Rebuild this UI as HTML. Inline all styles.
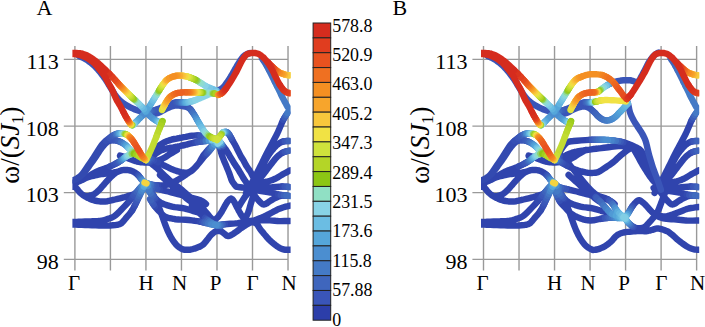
<!DOCTYPE html>
<html><head><meta charset="utf-8"><style>
html,body{margin:0;padding:0;background:#fff;width:705px;height:327px;overflow:hidden}
svg{display:block}
text{fill:#000}
</style></head><body>
<svg width="705" height="327" viewBox="0 0 705 327">
<line x1="74.90" y1="46" x2="74.90" y2="270.5" stroke="#999" stroke-width="1.4"/>
<line x1="110.42" y1="46" x2="110.42" y2="270.5" stroke="#999" stroke-width="1.4"/>
<line x1="145.94" y1="46" x2="145.94" y2="270.5" stroke="#999" stroke-width="1.4"/>
<line x1="181.46" y1="46" x2="181.46" y2="270.5" stroke="#999" stroke-width="1.4"/>
<line x1="216.98" y1="46" x2="216.98" y2="270.5" stroke="#999" stroke-width="1.4"/>
<line x1="252.50" y1="46" x2="252.50" y2="270.5" stroke="#999" stroke-width="1.4"/>
<line x1="288.02" y1="46" x2="288.02" y2="270.5" stroke="#999" stroke-width="1.4"/>
<line x1="63.8" y1="59.3" x2="288" y2="59.3" stroke="#999" stroke-width="1.3"/>
<line x1="63.8" y1="126.1" x2="288" y2="126.1" stroke="#999" stroke-width="1.3"/>
<line x1="63.8" y1="192.6" x2="288" y2="192.6" stroke="#999" stroke-width="1.3"/>
<line x1="63.8" y1="259.4" x2="288" y2="259.4" stroke="#999" stroke-width="1.3"/>
<text x="58.8" y="69.0" text-anchor="end" font-size="22" font-family='"Liberation Serif", serif'>113</text>
<text x="58.8" y="135.8" text-anchor="end" font-size="22" font-family='"Liberation Serif", serif'>108</text>
<text x="58.8" y="202.3" text-anchor="end" font-size="22" font-family='"Liberation Serif", serif'>103</text>
<text x="58.8" y="269.1" text-anchor="end" font-size="22" font-family='"Liberation Serif", serif'>98</text>
<text x="74.0" y="290.2" text-anchor="middle" font-size="21" font-family='"Liberation Serif", serif'>Γ</text>
<text x="146.0" y="290.2" text-anchor="middle" font-size="21" font-family='"Liberation Serif", serif'>H</text>
<text x="179.6" y="290.2" text-anchor="middle" font-size="21" font-family='"Liberation Serif", serif'>N</text>
<text x="215.6" y="290.2" text-anchor="middle" font-size="21" font-family='"Liberation Serif", serif'>P</text>
<text x="252.6" y="290.2" text-anchor="middle" font-size="21" font-family='"Liberation Serif", serif'>Γ</text>
<text x="289.1" y="290.2" text-anchor="middle" font-size="21" font-family='"Liberation Serif", serif'>N</text>
<line x1="483.50" y1="46" x2="483.50" y2="270.5" stroke="#999" stroke-width="1.4"/>
<line x1="519.02" y1="46" x2="519.02" y2="270.5" stroke="#999" stroke-width="1.4"/>
<line x1="554.54" y1="46" x2="554.54" y2="270.5" stroke="#999" stroke-width="1.4"/>
<line x1="590.06" y1="46" x2="590.06" y2="270.5" stroke="#999" stroke-width="1.4"/>
<line x1="625.58" y1="46" x2="625.58" y2="270.5" stroke="#999" stroke-width="1.4"/>
<line x1="661.10" y1="46" x2="661.10" y2="270.5" stroke="#999" stroke-width="1.4"/>
<line x1="696.62" y1="46" x2="696.62" y2="270.5" stroke="#999" stroke-width="1.4"/>
<line x1="472.40000000000003" y1="59.3" x2="696.6" y2="59.3" stroke="#999" stroke-width="1.3"/>
<line x1="472.40000000000003" y1="126.1" x2="696.6" y2="126.1" stroke="#999" stroke-width="1.3"/>
<line x1="472.40000000000003" y1="192.6" x2="696.6" y2="192.6" stroke="#999" stroke-width="1.3"/>
<line x1="472.40000000000003" y1="259.4" x2="696.6" y2="259.4" stroke="#999" stroke-width="1.3"/>
<text x="467.40000000000003" y="69.0" text-anchor="end" font-size="22" font-family='"Liberation Serif", serif'>113</text>
<text x="467.40000000000003" y="135.8" text-anchor="end" font-size="22" font-family='"Liberation Serif", serif'>108</text>
<text x="467.40000000000003" y="202.3" text-anchor="end" font-size="22" font-family='"Liberation Serif", serif'>103</text>
<text x="467.40000000000003" y="269.1" text-anchor="end" font-size="22" font-family='"Liberation Serif", serif'>98</text>
<text x="482.6" y="290.2" text-anchor="middle" font-size="21" font-family='"Liberation Serif", serif'>Γ</text>
<text x="554.6" y="290.2" text-anchor="middle" font-size="21" font-family='"Liberation Serif", serif'>H</text>
<text x="588.2" y="290.2" text-anchor="middle" font-size="21" font-family='"Liberation Serif", serif'>N</text>
<text x="624.2" y="290.2" text-anchor="middle" font-size="21" font-family='"Liberation Serif", serif'>P</text>
<text x="661.2" y="290.2" text-anchor="middle" font-size="21" font-family='"Liberation Serif", serif'>Γ</text>
<text x="697.7" y="290.2" text-anchor="middle" font-size="21" font-family='"Liberation Serif", serif'>N</text>
<clipPath id="c0"><rect x="72.4" y="0" width="218.2" height="327"/></clipPath><g clip-path="url(#c0)" fill="none" stroke-width="6.4" stroke-linecap="round"><path stroke="#3044ad" d="M69.0 182.5L69.9 182.5M69.9 182.5L71.1 182.6M71.1 182.6L72.5 182.6M72.5 182.6L74.0 182.5M74.0 182.5L75.6 182.2M75.6 182.2L77.4 181.8M77.4 181.8L79.2 181.2M79.2 181.2L81.0 180.5M81.0 180.5L82.8 179.6M82.8 179.6L84.6 178.6M84.6 178.6L86.3 177.5M86.3 177.5L88.0 176.5M88.0 176.5L89.6 175.6M89.6 175.6L91.1 174.7M91.1 174.7L92.6 173.8M92.6 173.8L94.0 173.0M94.0 173.0L95.3 172.3M95.3 172.3L96.5 171.7M96.5 171.7L97.7 171.2M97.7 171.2L99.0 170.6M99.0 170.6L100.5 170.1M100.5 170.1L102.0 169.5M102.0 169.5L103.5 169.0M103.5 169.0L105.0 168.5M105.0 168.5L106.2 168.0M106.2 168.0L107.4 167.6M107.4 167.6L108.6 167.1M108.6 167.1L110.0 166.5M70.0 187.0L70.9 186.9M70.9 186.9L72.2 186.7M72.2 186.7L73.6 186.6M73.6 186.6L75.0 187.0M75.0 187.0L76.2 188.0M76.2 188.0L77.5 189.5M77.5 189.5L78.7 191.1M78.7 191.1L80.0 192.5M80.0 192.5L81.2 193.6M81.2 193.6L82.4 194.6M82.4 194.6L83.7 195.5M83.7 195.5L85.3 196.5M85.3 196.5L87.3 197.6M87.3 197.6L89.6 198.7M89.6 198.7L92.0 199.7M92.0 199.7L94.5 200.5M94.5 200.5L97.0 201.0M97.0 201.0L99.7 201.4M99.7 201.4L102.4 201.5M102.4 201.5L105.0 201.5M105.0 201.5L107.5 201.2M107.5 201.2L110.0 200.7M110.0 200.7L112.5 200.1M112.5 200.1L115.0 199.5M115.0 199.5L117.5 198.9M117.5 198.9L120.0 198.3M120.0 198.3L122.5 197.7M122.5 197.7L125.0 197.0M125.0 197.0L127.7 196.2M127.7 196.2L130.6 195.4M130.6 195.4L133.3 194.5M133.3 194.5L135.6 193.5M86.0 196.5L87.4 196.2M87.4 196.2L89.3 195.8M89.3 195.8L91.5 195.3M91.5 195.3L93.4 194.6M93.4 194.6L95.0 193.6M95.0 193.6L96.4 192.5M96.4 192.5L97.8 191.2M97.8 191.2L99.0 190.0M99.0 190.0L100.1 188.9M100.1 188.9L101.1 187.8M101.1 187.8L102.0 186.7M102.0 186.7L103.0 185.6M103.0 185.6L104.0 184.5M104.0 184.5L105.0 183.3M105.0 183.3L106.0 182.1M106.0 182.1L107.0 181.0M107.0 181.0L108.1 179.8M108.1 179.8L109.2 178.7M109.2 178.7L110.3 177.6M110.3 177.6L111.4 176.5M111.4 176.5L112.4 175.5M112.4 175.5L113.4 174.6M113.4 174.6L114.4 173.8M114.4 173.8L115.5 173.0M115.5 173.0L116.8 172.3M116.8 172.3L118.1 171.6M118.1 171.6L119.6 171.0M119.6 171.0L121.0 170.5M121.0 170.5L122.5 170.2M122.5 170.2L124.0 170.0M124.0 170.0L125.5 169.9M125.5 169.9L127.0 170.0M127.0 170.0L128.5 170.2M128.5 170.2L130.1 170.5M130.1 170.5L131.6 170.9M131.6 170.9L133.0 171.5M133.0 171.5L134.3 172.2M134.3 172.2L135.6 173.0M135.6 173.0L136.8 174.0M136.8 174.0L138.0 175.0M68.0 222.0L68.7 222.0M68.7 222.0L69.8 222.0M69.8 222.0L71.1 222.0M71.1 222.0L73.0 222.0M73.0 222.0L75.5 221.9M75.5 221.9L78.4 221.8M78.4 221.8L81.7 221.6M81.7 221.6L85.0 221.5M85.0 221.5L88.5 221.4M88.5 221.4L92.3 221.3M92.3 221.3L95.9 221.2M95.9 221.2L99.0 221.0M99.0 221.0L101.2 220.7M101.2 220.7L102.9 220.4M102.9 220.4L104.4 220.0M104.4 220.0L106.0 219.5M106.0 219.5L107.9 218.9M107.9 218.9L109.9 218.3M109.9 218.3L112.0 217.5M112.0 217.5L113.9 216.5M113.9 216.5L115.7 215.2M115.7 215.2L117.4 213.6M117.4 213.6L119.2 211.9M119.2 211.9L121.0 210.0M121.0 210.0L123.0 207.9M123.0 207.9L125.2 205.6M125.2 205.6L127.3 203.3M127.3 203.3L129.2 201.2M68.0 224.5L68.7 224.5M68.7 224.5L69.8 224.5M69.8 224.5L71.1 224.5M71.1 224.5L73.0 224.5M73.0 224.5L75.5 224.6M75.5 224.6L78.4 224.7M78.4 224.7L81.7 224.9M81.7 224.9L85.0 225.0M85.0 225.0L88.4 225.1M88.4 225.1L92.1 225.3M92.1 225.3L95.7 225.4M95.7 225.4L99.0 225.5M99.0 225.5L102.0 225.6M102.0 225.6L104.8 225.6M104.8 225.6L107.4 225.6M107.4 225.6L110.0 225.5M110.0 225.5L112.7 225.3M112.7 225.3L115.3 225.1M115.3 225.1L117.8 224.7M117.8 224.7L120.0 224.0M120.0 224.0L121.8 222.9M121.8 222.9L123.2 221.4M123.2 221.4L124.6 219.7M124.6 219.7L126.0 218.0M126.0 218.0L127.6 216.2M127.6 216.2L129.2 214.4M129.2 214.4L130.7 212.4M130.7 212.4L132.2 210.3M120.0 155.6L121.6 156.1M121.6 156.1L124.0 156.9M124.0 156.9L126.6 157.8M126.6 157.8L129.0 158.6M129.0 158.6L131.1 159.4M131.1 159.4L133.1 160.2M133.1 160.2L135.1 160.9M135.1 160.9L137.0 161.5M137.0 161.5L138.9 161.9M138.9 161.9L140.7 162.2M140.7 162.2L142.5 162.4M142.5 162.4L144.5 162.5M144.5 162.5L146.7 162.5M146.7 162.5L148.9 162.4M148.9 162.4L151.3 162.1M151.3 162.1L153.6 161.7M153.6 161.7L155.9 161.1M155.9 161.1L158.3 160.4M158.3 160.4L160.6 159.5M160.6 159.5L162.8 158.6M162.8 158.6L164.7 157.5M164.7 157.5L166.5 156.4M166.5 156.4L168.3 155.1M168.3 155.1L170.0 154.0M170.0 154.0L171.9 152.9M171.9 152.9L173.9 151.7M173.9 151.7L175.7 150.7M175.7 150.7L177.0 150.0M150.0 154.0L151.2 152.5M151.2 152.5L152.4 151.1M152.4 151.1L153.7 149.7M153.7 149.7L155.0 148.5M155.0 148.5L156.2 147.5M156.2 147.5L157.5 146.6M157.5 146.6L158.8 145.8M158.8 145.8L160.0 145.0M160.0 145.0L161.2 144.2M161.2 144.2L162.4 143.4M162.4 143.4L163.6 142.7M163.6 142.7L165.0 142.0M165.0 142.0L166.5 141.3M166.5 141.3L168.2 140.7M168.2 140.7L170.0 140.1M170.0 140.1L172.0 139.5M172.0 139.5L174.3 139.0M174.3 139.0L176.8 138.6M176.8 138.6L179.3 138.1M179.3 138.1L181.7 137.7M181.7 137.7L183.9 137.2M183.9 137.2L186.0 136.8M186.0 136.8L188.0 136.3M188.0 136.3L190.0 136.0M190.0 136.0L192.0 135.7M192.0 135.7L193.9 135.6M193.9 135.6L195.9 135.5M195.9 135.5L198.0 135.5M150.0 158.0L151.0 157.3M151.0 157.3L152.0 156.6M152.0 156.6L153.0 155.8M153.0 155.8L154.2 155.0M154.2 155.0L155.5 154.0M155.5 154.0L156.9 153.0M156.9 153.0L158.4 151.9M158.4 151.9L160.0 151.0M160.0 151.0L161.6 150.2M161.6 150.2L163.3 149.6M163.3 149.6L165.1 149.0M165.1 149.0L167.0 148.5M167.0 148.5L169.0 148.1M169.0 148.1L171.2 147.7M171.2 147.7L173.4 147.4M173.4 147.4L175.6 147.0M175.6 147.0L177.8 146.5M177.8 146.5L180.1 146.1M180.1 146.1L182.4 145.5M182.4 145.5L184.8 145.0M184.8 145.0L187.3 144.4M187.3 144.4L189.8 143.7M189.8 143.7L192.4 143.1M192.4 143.1L195.0 142.5M158.0 162.5L160.0 163.5M160.0 163.5L162.1 164.5M162.1 164.5L164.1 165.5M164.1 165.5L166.0 166.4M166.0 166.4L167.6 167.2M167.6 167.2L169.1 167.9M169.1 167.9L170.5 168.6M170.5 168.6L172.0 169.2M172.0 169.2L173.7 169.9M173.7 169.9L175.4 170.5M175.4 170.5L177.2 171.1M177.2 171.1L179.0 171.6M179.0 171.6L180.8 172.1M180.8 172.1L182.6 172.5M182.6 172.5L184.3 172.8M184.3 172.8L186.0 172.8M186.0 172.8L187.6 172.6M187.6 172.6L189.0 172.2M189.0 172.2L190.5 171.5M190.5 171.5L192.0 170.5M192.0 170.5L193.6 169.1M193.6 169.1L195.2 167.4M195.2 167.4L196.9 165.5M196.9 165.5L198.6 163.5M198.6 163.5L200.3 161.4M200.3 161.4L202.1 159.2M202.1 159.2L203.8 157.1M203.8 157.1L205.4 155.1M208.0 150.0L206.5 151.7M206.5 151.7L205.3 153.1M205.3 153.1L204.1 154.5M204.1 154.5L203.0 156.0M203.0 156.0L201.9 157.8M201.9 157.8L200.8 159.8M200.8 159.8L199.8 161.7M199.8 161.7L198.6 163.5M198.6 163.5L197.3 165.1M197.3 165.1L196.0 166.7M196.0 166.7L194.5 168.1M194.5 168.1L193.0 169.5M193.0 169.5L191.3 170.8M191.3 170.8L189.5 172.1M189.5 172.1L187.7 173.3M187.7 173.3L186.0 174.5M186.0 174.5L184.4 175.6M184.4 175.6L183.0 176.6M183.0 176.6L181.5 177.6M181.5 177.6L180.0 178.5M180.0 178.5L178.5 179.4M178.5 179.4L177.0 180.3M177.0 180.3L175.5 181.2M175.5 181.2L173.8 182.0M173.8 182.0L172.0 182.8M172.0 182.8L170.0 183.7M170.0 183.7L168.0 184.4M168.0 184.4L166.0 185.0M166.0 185.0L164.0 185.3M164.0 185.3L161.9 185.5M161.9 185.5L159.9 185.5M159.9 185.5L158.0 185.5M160.0 189.5L162.6 190.2M162.6 190.2L165.3 190.8M165.3 190.8L168.2 191.5M168.2 191.5L171.2 192.3M171.2 192.3L174.4 193.2M174.4 193.2L177.9 194.1M177.9 194.1L181.4 195.0M181.4 195.0L185.0 196.0M185.0 196.0L188.8 197.0M188.8 197.0L192.8 198.0M192.8 198.0L196.6 199.0M196.6 199.0L199.7 200.0M199.7 200.0L202.0 201.1M202.0 201.1L203.8 202.2M203.8 202.2L205.1 203.3M205.1 203.3L206.0 204.0M155.0 198.0L156.2 200.7M156.2 200.7L157.5 203.6M157.5 203.6L158.8 206.8M158.8 206.8L160.0 210.0M160.0 210.0L161.2 213.4M161.2 213.4L162.5 217.0M162.5 217.0L163.8 220.6M163.8 220.6L165.0 224.0M165.0 224.0L166.2 227.1M166.2 227.1L167.4 230.1M167.4 230.1L168.7 232.9M168.7 232.9L170.0 235.5M170.0 235.5L171.4 238.0M171.4 238.0L172.9 240.4M172.9 240.4L174.5 242.6M174.5 242.6L176.0 244.5M176.0 244.5L177.5 246.0M177.5 246.0L179.1 247.3M179.1 247.3L180.6 248.2M180.6 248.2L182.0 249.0M182.0 249.0L183.3 249.5M183.3 249.5L184.5 249.7M184.5 249.7L185.7 249.8M185.7 249.8L187.0 249.8M187.0 249.8L188.4 249.8M188.4 249.8L189.8 249.7M189.8 249.7L191.3 249.4M191.3 249.4L193.0 249.0M193.0 249.0L195.1 248.4M195.1 248.4L197.4 247.5M197.4 247.5L199.8 246.6M199.8 246.6L201.8 245.5M201.8 245.5L203.4 244.3M203.4 244.3L204.7 242.8M204.7 242.8L205.9 241.4M205.9 241.4L207.0 240.0M207.0 240.0L208.1 238.7M208.1 238.7L209.0 237.4M209.0 237.4L210.0 236.1M210.0 236.1L211.1 234.9M211.1 234.9L212.4 233.7M212.4 233.7L213.7 232.6M213.7 232.6L215.1 231.6M215.1 231.6L216.5 231.0M216.5 231.0L217.8 230.8M217.8 230.8L219.1 230.9M219.1 230.9L220.4 231.3M220.4 231.3L221.8 231.8M221.8 231.8L223.3 232.8M223.3 232.8L224.8 234.1M224.8 234.1L226.4 235.4M226.4 235.4L227.9 236.0M227.9 236.0L229.4 235.9M229.4 235.9L230.9 235.2M230.9 235.2L232.5 234.3M232.5 234.3L234.0 233.3M234.0 233.3L235.6 232.3M235.6 232.3L237.2 231.1M237.2 231.1L238.8 229.9M238.8 229.9L240.2 228.8M240.2 228.8L241.4 227.9M241.4 227.9L242.6 227.2M242.6 227.2L243.6 226.4M243.6 226.4L244.8 225.7M244.8 225.7L246.2 224.8M246.2 224.8L247.7 223.9M247.7 223.9L249.1 223.1M249.1 223.1L250.0 222.5M150.0 162.5L151.2 163.4M151.2 163.4L152.4 164.4M152.4 164.4L153.7 165.4M153.7 165.4L155.0 166.5M155.0 166.5L156.2 167.5M156.2 167.5L157.3 168.5M157.3 168.5L158.5 169.6M158.5 169.6L160.0 171.0M160.0 171.0L161.9 172.9M161.9 172.9L164.2 175.2M164.2 175.2L166.5 177.4M166.5 177.4L168.6 179.4M168.6 179.4L170.3 180.9M170.3 180.9L171.9 182.2M171.9 182.2L173.4 183.3M173.4 183.3L175.0 184.5M175.0 184.5L176.6 185.7M176.6 185.7L178.2 187.0M178.2 187.0L179.8 188.2M179.8 188.2L181.6 189.7M181.6 189.7L183.5 191.4M183.5 191.4L185.6 193.2M185.6 193.2L187.8 195.1M187.8 195.1L190.0 197.0M190.0 197.0L192.4 199.1M192.4 199.1L195.0 201.3M195.0 201.3L197.6 203.4M197.6 203.4L199.7 205.3M199.7 205.3L201.3 206.9M201.3 206.9L202.6 208.3M202.6 208.3L203.8 209.6M203.8 209.6L205.0 211.0M205.0 211.0L206.3 212.5M206.3 212.5L207.6 214.1M207.6 214.1L208.8 215.6M208.8 215.6L210.0 217.0M210.0 217.0L211.2 218.2M211.2 218.2L212.3 219.4M212.3 219.4L213.3 220.3M213.3 220.3L214.0 221.0M160.0 175.0L161.8 176.6M161.8 176.6L164.4 178.9M164.4 178.9L167.3 181.5M167.3 181.5L170.0 184.0M170.0 184.0L172.5 186.3M172.5 186.3L175.0 188.6M175.0 188.6L177.5 190.8M177.5 190.8L180.0 193.0M180.0 193.0L182.7 195.3M182.7 195.3L185.6 197.6M185.6 197.6L188.2 199.6M188.2 199.6L190.0 201.0M156.0 199.0L157.2 200.1M157.2 200.1L158.5 201.2M158.5 201.2L160.0 202.2M160.0 202.2L161.8 203.2M161.8 203.2L164.0 204.2M164.0 204.2L166.6 205.1M166.6 205.1L169.3 205.9M169.3 205.9L171.9 206.6M171.9 206.6L174.5 207.1M174.5 207.1L177.1 207.4M177.1 207.4L179.6 207.7M179.6 207.7L182.0 208.0M182.0 208.0L184.1 208.4M184.1 208.4L186.0 208.9M186.0 208.9L187.9 209.4M187.9 209.4L190.0 210.0M190.0 210.0L192.6 210.8M192.6 210.8L195.5 211.6M195.5 211.6L198.2 212.4M198.2 212.4L200.0 213.0M155.0 206.6L156.2 208.1M156.2 208.1L157.5 209.5M157.5 209.5L158.7 210.8M158.7 210.8L160.0 212.0M160.0 212.0L161.2 213.3M161.2 213.3L162.3 214.5M162.3 214.5L163.6 215.7M163.6 215.7L165.2 216.7M165.2 216.7L167.3 217.5M167.3 217.5L169.7 218.2M169.7 218.2L172.4 218.7M172.4 218.7L175.3 219.2M175.3 219.2L178.5 219.5M178.5 219.5L181.9 219.6M181.9 219.6L185.4 219.8M185.4 219.8L188.7 220.0M188.7 220.0L191.8 220.4M191.8 220.4L194.7 220.8M194.7 220.8L197.5 221.2M197.5 221.2L200.0 221.7M219.5 147.0L220.1 148.9M220.1 148.9L220.7 151.1M220.7 151.1L221.3 153.4M221.3 153.4L222.0 155.6M222.0 155.6L222.7 157.4M222.7 157.4L223.4 159.1M223.4 159.1L224.1 160.9M224.1 160.9L225.0 163.0M225.0 163.0L226.1 165.6M226.1 165.6L227.3 168.5M227.3 168.5L228.5 171.4M228.5 171.4L229.5 174.0M229.5 174.0L230.2 176.1M230.2 176.1L230.8 177.8M230.8 177.8L231.3 179.4M231.3 179.4L232.0 181.0M232.0 181.0L233.0 182.6M233.0 182.6L234.2 184.2M234.2 184.2L235.2 185.5M235.2 185.5L236.0 186.5M223.0 146.0L223.9 147.1M223.9 147.1L224.8 148.2M224.8 148.2L225.7 149.3M225.7 149.3L226.5 150.5M226.5 150.5L227.2 151.7M227.2 151.7L227.9 152.9M227.9 152.9L228.7 154.1M228.7 154.1L229.5 155.6M229.5 155.6L230.5 157.3M230.5 157.3L231.7 159.2M231.7 159.2L232.9 161.2M232.9 161.2L234.0 163.0M234.0 163.0L235.1 164.6M235.1 164.6L236.1 166.2M236.1 166.2L237.1 167.6M237.1 167.6L238.0 169.0M238.0 169.0L238.8 170.2M238.8 170.2L239.4 171.4M239.4 171.4L240.1 172.6M240.1 172.6L241.0 174.0M241.0 174.0L242.1 175.9M242.1 175.9L243.4 178.1M243.4 178.1L244.8 180.2M244.8 180.2L246.0 182.0M246.0 182.0L247.2 183.4M247.2 183.4L248.3 184.5M248.3 184.5L249.3 185.4M249.3 185.4L250.0 186.0M232.0 139.5L232.9 141.1M232.9 141.1L233.9 142.8M233.9 142.8L234.9 144.5M234.9 144.5L235.9 146.4M235.9 146.4L237.0 148.7M237.0 148.7L238.3 151.2M238.3 151.2L239.5 153.6M239.5 153.6L240.5 155.6M240.5 155.6L241.3 157.0M241.3 157.0L241.9 158.0M241.9 158.0L242.5 158.9M242.5 158.9L243.2 160.0M243.2 160.0L244.0 161.4M244.0 161.4L244.8 162.9M244.8 162.9L245.6 164.5M245.6 164.5L246.5 166.0M246.5 166.0L247.5 167.5M247.5 167.5L248.5 169.0M248.5 169.0L249.6 170.5M249.6 170.5L250.6 172.1M250.6 172.1L251.5 173.8M251.5 173.8L252.4 175.6M252.4 175.6L253.3 177.4M253.3 177.4L254.0 179.0M254.0 179.0L254.6 180.5M254.6 180.5L255.2 181.9M255.2 181.9L255.7 183.1M255.7 183.1L256.0 184.0M236.0 186.5L237.0 186.7M237.0 186.7L238.5 187.0M238.5 187.0L240.2 187.3M240.2 187.3L242.0 187.5M242.0 187.5L244.0 187.6M244.0 187.6L246.4 187.6M246.4 187.6L248.5 187.5M248.5 187.5L250.0 187.5M192.0 205.0L193.5 206.0M193.5 206.0L195.6 207.3M195.6 207.3L198.0 208.9M198.0 208.9L200.0 210.5M200.0 210.5L201.6 212.1M201.6 212.1L203.1 213.8M203.1 213.8L204.5 215.5M204.5 215.5L206.0 217.0M206.0 217.0L207.5 218.5M207.5 218.5L209.1 220.1M209.1 220.1L210.6 221.3M210.6 221.3L212.0 222.0M212.0 222.0L213.1 221.9M213.1 221.9L214.1 221.1M214.1 221.1L215.0 220.1M215.0 220.1L216.0 219.0M216.0 219.0L217.0 218.0M217.0 218.0L218.1 216.9M218.1 216.9L219.1 215.5M219.1 215.5L220.3 213.9M220.3 213.9L221.7 211.7M221.7 211.7L223.2 209.0M223.2 209.0L224.6 206.4M224.6 206.4L225.8 204.3M225.8 204.3L226.7 202.9M226.7 202.9L227.3 201.9M227.3 201.9L227.9 201.2M227.9 201.2L228.5 200.5M228.5 200.5L229.2 199.8M229.2 199.8L229.9 199.2M229.9 199.2L230.6 198.9M230.6 198.9L231.3 198.8M231.3 198.8L232.0 199.1M232.0 199.1L232.7 199.7M232.7 199.7L233.3 200.5M233.3 200.5L234.0 201.5M234.0 201.5L234.7 202.7M234.7 202.7L235.4 204.1M235.4 204.1L236.1 205.6M236.1 205.6L236.8 207.0M236.8 207.0L237.5 208.3M237.5 208.3L238.2 209.6M238.2 209.6L238.8 210.8M238.8 210.8L239.5 212.0M239.5 212.0L240.2 213.2M240.2 213.2L240.9 214.5M240.9 214.5L241.6 215.6M241.6 215.6L242.3 216.5M242.3 216.5L243.0 217.2M243.0 217.2L243.7 217.8M243.7 217.8L244.3 218.1M244.3 218.1L245.0 218.0M245.0 218.0L245.7 217.4M245.7 217.4L246.3 216.4M246.3 216.4L246.9 215.1M246.9 215.1L247.5 214.0M247.5 214.0L247.9 213.1M247.9 213.1L248.3 212.3M248.3 212.3L248.6 211.2M248.6 211.2L249.1 209.8M249.1 209.8L249.7 207.7M249.7 207.7L250.4 205.2M250.4 205.2L251.2 202.5M251.2 202.5L251.9 200.1M251.9 200.1L252.6 197.9M252.6 197.9L253.3 195.8M253.3 195.8L253.9 193.8M253.9 193.8L254.6 191.9M254.6 191.9L255.3 189.9M255.3 189.9L256.0 187.9M256.0 187.9L256.6 186.2M256.6 186.2L257.0 185.0M238.0 208.0L239.0 206.3M239.0 206.3L240.5 203.8M240.5 203.8L242.2 201.1M242.2 201.1L243.6 198.8M243.6 198.8L244.8 197.1M244.8 197.1L245.9 195.7M245.9 195.7L247.0 194.3M247.0 194.3L248.0 193.0M248.0 193.0L249.1 191.5M249.1 191.5L250.2 190.0M250.2 190.0L251.2 188.7M251.2 188.7L251.9 187.8M283.2 120.0L282.0 122.5M282.0 122.5L280.9 125.3M280.9 125.3L279.7 128.0M279.7 128.0L278.6 130.6M278.6 130.6L277.5 133.0M277.5 133.0L276.4 135.2M276.4 135.2L275.2 137.5M275.2 137.5L274.0 139.8M274.0 139.8L272.7 142.3M272.7 142.3L271.3 144.8M271.3 144.8L269.9 147.4M269.9 147.4L268.5 150.0M268.5 150.0L267.1 152.7M267.1 152.7L265.7 155.5M265.7 155.5L264.3 158.3M264.3 158.3L263.0 161.0M263.0 161.0L261.7 163.6M261.7 163.6L260.4 166.2M260.4 166.2L259.2 168.7M259.2 168.7L258.0 171.0M258.0 171.0L256.9 173.2M256.9 173.2L255.9 175.2M255.9 175.2L255.0 177.1M255.0 177.1L254.0 179.0M254.0 179.0L253.0 180.8M253.0 180.8L252.0 182.6M252.0 182.6L251.0 184.3M251.0 184.3L250.0 186.0M250.0 186.0L248.9 187.9M248.9 187.9L247.8 189.9M247.8 189.9L246.7 191.7M246.7 191.7L246.0 193.0M283.0 141.5L281.4 142.1M281.4 142.1L279.9 142.9M279.9 142.9L278.4 143.9M278.4 143.9L277.0 145.0M277.0 145.0L275.7 146.2M275.7 146.2L274.4 147.6M274.4 147.6L273.2 149.1M273.2 149.1L272.0 150.5M272.0 150.5L270.9 151.8M270.9 151.8L269.9 153.2M269.9 153.2L269.0 154.5M269.0 154.5L268.0 156.0M268.0 156.0L267.0 157.6M267.0 157.6L266.0 159.4M266.0 159.4L265.0 161.2M265.0 161.2L264.0 163.0M264.0 163.0L263.0 164.8M263.0 164.8L262.0 166.5M262.0 166.5L261.0 168.2M261.0 168.2L260.0 170.0M260.0 170.0L258.9 171.9M258.9 171.9L257.8 173.9M257.8 173.9L256.7 175.7M256.7 175.7L256.0 177.0M283.0 152.5L281.4 153.4M281.4 153.4L279.9 154.5M279.9 154.5L278.4 155.7M278.4 155.7L277.0 157.0M277.0 157.0L275.7 158.4M275.7 158.4L274.4 159.9M274.4 159.9L273.2 161.4M273.2 161.4L272.0 163.0M272.0 163.0L270.8 164.6M270.8 164.6L269.5 166.2M269.5 166.2L268.2 167.9M268.2 167.9L267.0 169.5M267.0 169.5L265.8 171.2M265.8 171.2L264.5 172.8M264.5 172.8L263.2 174.5M263.2 174.5L262.0 176.0M262.0 176.0L260.8 177.4M260.8 177.4L259.5 178.7M259.5 178.7L258.2 179.9M258.2 179.9L257.0 181.0M257.0 181.0L255.6 182.0M255.6 182.0L254.2 182.8M254.2 182.8L252.9 183.5M252.9 183.5L252.0 184.0M290.0 170.4L288.6 171.2M288.6 171.2L286.5 172.3M286.5 172.3L284.2 173.5M284.2 173.5L282.2 174.6M282.2 174.6L280.6 175.6M280.6 175.6L279.0 176.6M279.0 176.6L277.6 177.5M277.6 177.5L276.1 178.3M276.1 178.3L274.6 179.0M274.6 179.0L273.1 179.7M273.1 179.7L271.6 180.3M271.6 180.3L270.0 180.8M270.0 180.8L268.3 181.3M268.3 181.3L266.5 181.7M266.5 181.7L264.7 182.1M264.7 182.1L263.0 182.5M263.0 182.5L261.5 182.8M261.5 182.8L260.0 183.1M260.0 183.1L258.5 183.3M258.5 183.3L257.0 183.5M257.0 183.5L255.2 183.7M255.2 183.7L253.1 183.8M253.1 183.8L251.3 183.9M251.3 183.9L250.0 184.0M282.2 186.5L279.3 186.7M279.3 186.7L276.0 187.0M276.0 187.0L272.7 187.3M272.7 187.3L270.0 187.5M270.0 187.5L268.1 187.5M268.1 187.5L266.6 187.3M266.6 187.3L265.3 187.2M265.3 187.2L263.8 187.0M263.8 187.0L261.9 186.9M261.9 186.9L259.9 186.8M259.9 186.8L257.9 186.7M257.9 186.7L256.0 186.6M256.0 186.6L254.4 186.5M254.4 186.5L252.8 186.4M252.8 186.4L251.4 186.3M251.4 186.3L250.0 186.4M250.0 186.4L248.6 186.7M248.6 186.7L247.1 187.2M247.1 187.2L245.9 187.7M245.9 187.7L245.0 188.0M283.0 195.5L281.6 195.7M281.6 195.7L280.2 196.0M280.2 196.0L278.9 196.4M278.9 196.4L277.5 197.0M277.5 197.0L275.9 197.7M275.9 197.7L274.1 198.6M274.1 198.6L272.4 199.6M272.4 199.6L270.6 200.6M270.6 200.6L268.9 201.7M268.9 201.7L267.1 203.1M267.1 203.1L265.4 204.1M265.4 204.1L263.8 204.5M263.8 204.5L262.3 204.0M262.3 204.0L261.0 203.0M261.0 203.0L259.6 201.6M259.6 201.6L258.3 200.1M258.3 200.1L256.9 198.6M256.9 198.6L255.5 196.8M255.5 196.8L254.1 195.0M254.1 195.0L252.8 193.3M252.8 193.3L251.4 191.5M251.4 191.5L250.0 189.7M250.0 189.7L248.8 188.1M248.8 188.1L248.0 187.0M278.0 194.5L276.0 194.1M276.0 194.1L274.4 193.6M274.4 193.6L272.7 193.0M272.7 193.0L270.6 192.5M270.6 192.5L267.8 192.0M267.8 192.0L264.5 191.5M264.5 191.5L261.2 191.0M261.2 191.0L258.3 190.5M258.3 190.5L255.7 190.1M255.7 190.1L253.4 189.6M253.4 189.6L251.4 189.3M251.4 189.3L250.0 189.0M290.0 205.6L288.2 206.1M288.2 206.1L285.7 206.7M285.7 206.7L282.9 207.5M282.9 207.5L280.3 208.4M280.3 208.4L278.1 209.3M278.1 209.3L276.1 210.4M276.1 210.4L274.0 211.4M274.0 211.4L272.0 212.5M272.0 212.5L269.9 213.6M269.9 213.6L267.8 214.6M267.8 214.6L265.8 215.7M265.8 215.7L263.8 216.6M263.8 216.6L262.0 217.4M262.0 217.4L260.3 218.1M260.3 218.1L258.6 218.7M258.6 218.7L256.9 219.4M256.9 219.4L255.0 220.2M255.0 220.2L253.0 221.1M253.0 221.1L251.2 221.9M251.2 221.9L250.0 222.5M290.0 221.0L287.7 221.0M287.7 221.0L284.3 221.0M284.3 221.0L280.7 221.1M280.7 221.1L277.5 221.0M277.5 221.0L274.8 220.8M274.8 220.8L272.4 220.6M272.4 220.6L270.0 220.4M270.0 220.4L267.9 220.2M267.9 220.2L266.0 220.2M266.0 220.2L264.4 220.2M264.4 220.2L262.8 220.2M262.8 220.2L261.0 220.3M261.0 220.3L258.9 220.4M258.9 220.4L256.7 220.5M256.7 220.5L254.5 220.6M254.5 220.6L252.4 220.8M252.4 220.8L250.5 221.0M250.5 221.0L248.6 221.3M248.6 221.3L246.8 221.6M246.8 221.6L244.8 221.9M244.8 221.9L242.6 222.3M242.6 222.3L240.4 222.7M240.4 222.7L238.0 223.1M238.0 223.1L235.6 223.4M235.6 223.4L233.0 223.6M233.0 223.6L230.2 223.8M230.2 223.8L227.4 224.0M227.4 224.0L224.9 224.2M205.0 218.0L203.1 216.5M203.1 216.5L201.1 214.7M201.1 214.7L199.3 213.1M199.3 213.1L198.0 212.0M250.0 222.5L250.7 222.5M250.7 222.5L251.8 222.4M251.8 222.4L253.0 222.4M253.0 222.4L254.0 222.5M254.0 222.5L254.8 222.7M254.8 222.7L255.6 223.1M255.6 223.1L256.3 223.5M256.3 223.5L257.0 224.2M257.0 224.2L257.7 225.1M257.7 225.1L258.4 226.2M258.4 226.2L259.1 227.5M259.1 227.5L260.0 228.8M260.0 228.8L261.1 230.3M261.1 230.3L262.4 231.8M262.4 231.8L263.7 233.5M263.7 233.5L265.0 235.0M265.0 235.0L266.2 236.4M266.2 236.4L267.4 237.8M267.4 237.8L268.7 239.2M268.7 239.2L270.0 240.5M270.0 240.5L271.5 241.8M271.5 241.8L273.0 243.2M273.0 243.2L274.6 244.4M274.6 244.4L276.0 245.5M276.0 245.5L277.2 246.4M277.2 246.4L278.3 247.1M278.3 247.1L279.4 247.8M279.4 247.8L280.5 248.3M280.5 248.3L281.6 248.8M281.6 248.8L282.7 249.2M282.7 249.2L283.8 249.5M283.8 249.5L285.0 249.7M285.0 249.7L286.2 249.8M286.2 249.8L287.5 249.8M287.5 249.8L288.7 249.8M288.7 249.8L290.0 249.8M290.0 249.8L291.4 249.8M291.4 249.8L292.8 249.8M292.8 249.8L294.1 249.8M294.1 249.8L295.0 249.8M69.0 184.0L69.9 184.1M69.9 184.1L71.1 184.2M71.1 184.2L72.6 184.2M72.6 184.2L74.0 184.0M74.0 184.0L75.4 183.4M75.4 183.4L76.8 182.5M76.8 182.5L78.3 181.4M78.3 181.4L80.0 180.5M80.0 180.5L81.9 179.6M81.9 179.6L83.9 178.7M83.9 178.7L86.0 177.9M86.0 177.9L88.0 177.2M88.0 177.2L89.9 176.6M89.9 176.6L91.7 176.2M91.7 176.2L93.4 175.8M93.4 175.8L95.0 175.4M95.0 175.4L96.4 175.1M96.4 175.1L97.6 174.8M97.6 174.8L98.7 174.6M98.7 174.6L100.0 174.4M100.0 174.4L101.4 174.2M101.4 174.2L102.9 174.0M102.9 174.0L104.5 173.8M104.5 173.8L106.0 173.6M106.0 173.6L107.5 173.5M107.5 173.5L109.0 173.3M109.0 173.3L110.5 173.2M110.5 173.2L112.0 173.0M112.0 173.0L113.6 172.7M113.6 172.7L115.4 172.2M115.4 172.2L116.9 171.8M116.9 171.8L118.0 171.5"/>
<path stroke="#334ab0" d="M69.0 180.0L69.9 180.1M69.9 180.1L71.1 180.3M71.1 180.3L72.5 180.3M72.5 180.3L74.0 180.0M74.0 180.0L75.6 179.3M75.6 179.3L77.5 178.2M77.5 178.2L79.3 176.9M79.3 176.9L81.0 175.5M81.0 175.5L82.4 173.9M82.4 173.9L83.7 172.2M83.7 172.2L85.0 170.2M85.0 170.2L86.5 168.0M86.5 168.0L88.3 165.4M88.3 165.4L90.3 162.5M90.3 162.5L92.3 159.5M92.3 159.5L94.3 156.5M94.3 156.5L96.2 153.5M96.2 153.5L98.1 150.5M98.1 150.5L99.9 147.6M99.9 147.6L101.8 145.0M101.8 145.0L103.7 142.9M103.7 142.9L105.7 141.0M69.0 180.0L69.9 180.1M69.9 180.1L71.1 180.2M71.1 180.2L72.5 180.3M72.5 180.3L74.0 180.0M74.0 180.0L75.6 179.4M75.6 179.4L77.4 178.4M77.4 178.4L79.3 177.3M79.3 177.3L81.0 176.0M81.0 176.0L82.5 174.6M82.5 174.6L83.9 172.9M83.9 172.9L85.4 171.1M85.4 171.1L87.0 169.0M87.0 169.0L88.9 166.5M88.9 166.5L90.9 163.7M90.9 163.7L93.0 160.8M93.0 160.8L95.0 158.0M95.0 158.0L96.8 155.2M96.8 155.2L98.6 152.4M98.6 152.4L100.3 149.8M100.3 149.8L102.0 147.5M102.0 147.5L103.6 145.6M103.6 145.6L105.1 143.9M105.1 143.9L106.6 142.6M106.6 142.6L108.0 141.5M108.0 141.5L109.4 140.8M109.4 140.8L110.6 140.4M110.0 166.5L111.9 165.6M111.9 165.6L114.1 164.5M135.6 193.5L137.3 192.5M129.2 201.2L130.8 199.3M130.8 199.3L132.2 197.5M132.2 210.3L133.5 208.1M133.5 208.1L134.7 205.8M198.0 135.5L200.3 135.7M195.0 142.5L197.6 142.1M154.0 160.2L156.0 161.4M156.0 161.4L158.0 162.5M205.4 155.1L206.9 153.5M158.0 185.5L156.1 185.4M157.4 188.9L160.0 189.5M153.7 195.7L155.0 198.0M154.8 198.0L156.0 199.0M153.6 204.7L155.0 206.6M200.0 221.7L202.3 222.2M231.1 137.8L232.0 139.5M284.8 141.2L283.0 141.5M284.8 151.8L283.0 152.5M284.6 186.6L282.2 186.5M284.8 195.5L283.0 195.5M280.7 194.9L278.0 194.5"/>
<path stroke="#364fb4" d="M105.7 141.0L107.7 139.4M107.7 139.4L109.5 138.0M110.6 140.4L111.9 140.2M111.9 140.2L113.3 140.2M114.1 164.5L116.2 163.4M138.0 175.0L139.1 176.2M132.2 197.5L133.6 195.8M134.7 205.8L135.9 203.4M148.8 155.6L150.0 154.0M148.9 158.6L150.0 158.0M152.1 159.2L154.0 160.2M148.8 161.7L150.0 162.5M284.6 117.5L283.2 120.0M224.9 224.2L222.6 224.5M206.6 219.3L205.0 218.0"/>
<path stroke="#3a55b8" d="M79.0 56.0L80.4 56.6M80.4 56.6L82.4 57.5M82.4 57.5L84.7 58.7M84.7 58.7L87.0 60.0M87.0 60.0L89.2 61.6M89.2 61.6L91.5 63.3M91.5 63.3L93.8 65.3M93.8 65.3L96.0 67.5M96.0 67.5L98.2 69.9M98.2 69.9L100.4 72.6M100.4 72.6L102.6 75.4M102.6 75.4L104.5 78.0M104.5 78.0L106.2 80.5M106.2 80.5L107.7 82.9M107.7 82.9L109.1 85.3M109.1 85.3L110.5 87.5M110.5 87.5L111.8 89.7M111.8 89.7L113.1 91.8M113.1 91.8L114.3 93.7M114.3 93.7L115.5 95.5M115.5 95.5L116.6 97.0M116.6 97.0L117.7 98.2M117.7 98.2L118.8 99.4M118.8 99.4L120.0 100.5M120.0 100.5L121.3 101.7M121.3 101.7L122.7 102.8M122.7 102.8L124.3 103.9M124.3 103.9L126.0 105.0M126.0 105.0L128.0 106.1M128.0 106.1L130.2 107.3M130.2 107.3L132.5 108.4M132.5 108.4L135.0 109.5M135.0 109.5L137.9 110.5M137.9 110.5L141.1 111.5M141.1 111.5L144.0 112.4M144.0 112.4L146.0 113.0M146.0 113.0L147.1 113.2M147.1 113.2L148.6 113.6M148.6 113.6L150.4 113.9M150.4 113.9L152.0 114.0M152.0 114.0L153.5 113.9M153.5 113.9L155.1 113.7M155.1 113.7L156.6 113.4M156.6 113.4L158.0 113.0M158.0 113.0L159.3 112.5M159.3 112.5L160.4 111.9M160.4 111.9L161.6 111.2M161.6 111.2L163.0 110.5M163.0 110.5L164.6 109.6M164.6 109.6L166.4 108.7M166.4 108.7L168.3 107.8M168.3 107.8L170.0 107.0M170.0 107.0L171.6 106.4M171.6 106.4L173.1 106.0M173.1 106.0L174.5 105.7M174.5 105.7L176.0 105.5M176.0 105.5L177.5 105.5M177.5 105.5L179.0 105.6M179.0 105.6L180.5 105.8M180.5 105.8L182.0 106.0M182.0 106.0L183.6 106.3M183.6 106.3L185.2 106.6M185.2 106.6L186.7 107.0M186.7 107.0L188.0 107.5M188.0 107.5L188.9 108.0M156.5 109.6L158.0 109.0M158.0 109.0L159.5 108.4M159.5 108.4L161.0 107.8M161.0 107.8L162.5 107.1M162.5 107.1L164.0 106.5M164.0 106.5L165.5 105.9M165.5 105.9L167.0 105.2M167.0 105.2L168.5 104.6M168.5 104.6L170.0 104.0M170.0 104.0L171.5 103.5M171.5 103.5L173.1 103.1M173.1 103.1L174.6 102.7M174.6 102.7L176.0 102.5M217.0 91.0L218.1 90.4M218.1 90.4L219.7 89.7M219.7 89.7L221.4 88.7M221.4 88.7L223.0 87.5M223.0 87.5L224.3 86.1M224.3 86.1L225.6 84.4M225.6 84.4L226.8 82.7M226.8 82.7L228.0 81.0M228.0 81.0L229.1 79.4M229.1 79.4L230.1 77.8M230.1 77.8L231.0 76.2M231.0 76.2L232.0 74.5M232.0 74.5L233.0 72.8M233.0 72.8L234.0 71.0M234.0 71.0L235.0 69.2M235.0 69.2L236.0 67.5M236.0 67.5L237.0 65.8M237.0 65.8L238.0 64.2M238.0 64.2L239.0 62.5M239.0 62.5L240.0 61.0M240.0 61.0L241.1 59.5M241.1 59.5L242.2 58.0M242.2 58.0L243.3 56.6M243.3 56.6L244.5 55.5M244.5 55.5L245.9 54.6M245.9 54.6L247.5 53.9M247.5 53.9L249.0 53.4M249.0 53.4L250.0 53.0M109.5 138.0L111.2 136.7M113.3 140.2L114.8 140.3M114.8 140.3L116.3 140.5M116.2 163.4L118.0 162.4M137.3 192.5L138.7 191.3M133.6 195.8L135.0 194.0M135.9 203.4L137.0 201.0M200.3 135.7L202.7 136.1M197.6 142.1L200.3 141.7M150.4 158.6L152.1 159.2M206.9 153.5L208.3 152.0M210.0 147.8L208.0 150.0M156.1 185.4L154.3 185.1M154.8 188.3L157.4 188.9M152.4 193.7L153.7 195.7M153.7 196.9L154.8 198.0M152.2 202.5L153.6 204.7M202.3 222.2L204.3 222.6M230.2 136.2L231.1 137.8M286.9 141.0L284.8 141.2M286.9 151.2L284.8 151.8M286.9 186.8L284.6 186.6M286.8 195.7L284.8 195.5M283.7 195.2L280.7 194.9"/>
<path stroke="#3b59b9" d="M188.9 108.0L189.6 108.5M189.6 108.5L190.2 109.1M153.5 110.6L155.0 110.1M155.0 110.1L156.5 109.6M176.0 102.5L177.3 102.4M111.2 136.7L112.8 135.6M116.3 140.5L117.9 141.0M118.0 162.4L119.3 161.6M138.7 191.3L139.8 190.2M139.1 176.2L140.1 177.5M135.0 194.0L136.6 192.1M137.0 201.0L138.1 198.6M147.7 157.3L148.8 155.6M202.7 136.1L205.1 136.5M147.7 159.2L148.9 158.6M200.3 141.7L203.0 141.4M208.3 152.0L209.6 150.6M154.3 185.1L152.6 184.8M152.4 187.7L154.8 188.3M151.2 191.8L152.4 193.7M147.7 161.0L148.8 161.7M152.7 195.9L153.7 196.9M150.9 200.4L152.2 202.5M218.9 145.6L219.5 147.0M222.0 144.7L223.0 146.0M229.3 134.7L230.2 136.2M288.7 141.0L286.9 141.0M288.7 150.8L286.9 151.2M288.7 187.0L286.9 186.8M208.1 220.5L206.6 219.3"/>
<path stroke="#3c5eba" d="M190.2 109.1L191.0 110.0M152.0 111.0L153.5 110.6M177.3 102.4L178.6 102.4M112.8 135.6L114.3 134.8M117.9 141.0L119.5 141.5M149.0 158.6L150.4 158.6M286.1 115.1L284.6 117.5"/>
<path stroke="#3e62bc" d="M191.0 110.0L191.9 111.2M150.4 111.3L152.0 111.0M114.3 134.8L115.8 134.1M119.5 141.5L121.1 142.2M119.3 161.6L120.3 161.0M139.8 190.2L141.0 189.0M136.6 192.1L138.3 190.0M138.1 198.6L139.3 196.2M205.1 136.5L207.5 137.0M203.0 141.4L205.7 141.0M209.6 150.6L211.0 149.0M152.6 184.8L151.0 184.5M150.4 187.0L152.4 187.7M150.0 190.0L151.2 191.8M151.7 194.8L152.7 195.9M150.0 199.0L150.9 200.4M204.3 222.6L206.2 223.1M228.5 133.5L229.3 134.7M290.0 141.0L288.7 141.0M290.0 150.5L288.7 150.8M290.0 187.2L288.7 187.0M288.7 195.9L286.8 195.7M286.5 195.4L283.7 195.2M222.6 224.5L220.4 224.8"/>
<path stroke="#3f66bd" d="M191.9 111.2L192.9 112.7M178.6 102.4L179.8 102.5M262.0 58.5L262.7 59.5M262.7 59.5L263.8 61.0M263.8 61.0L264.9 62.8M264.9 62.8L266.0 64.5M266.0 64.5L267.0 66.3M140.1 177.5L141.1 178.9M146.7 158.9L147.7 157.3M146.7 159.7L147.7 159.2M147.7 159.1L149.0 158.6M212.3 145.1L210.0 147.8M146.7 160.4L147.7 161.0M150.6 193.5L151.7 194.8M227.8 132.8L228.5 133.5M209.6 221.6L208.1 220.5"/>
<path stroke="#406bbf" d="M148.6 111.6L150.4 111.3M179.8 102.5L181.0 102.5M267.0 66.3L268.0 68.1M268.0 68.1L269.0 70.1M120.3 161.0L121.1 160.4M138.3 190.0L139.9 188.1M139.3 196.2L140.4 193.8M206.2 223.1L208.0 223.5M219.7 225.8L221.0 226.0M287.5 113.0L286.1 115.1M290.0 196.0L288.7 195.9M288.5 195.6L286.5 195.4"/>
<path stroke="#4270c2" d="M192.9 112.7L194.0 114.3M269.0 70.1L270.0 72.0M270.0 72.0L271.0 74.0M271.0 74.0L272.0 76.0M272.0 76.0L273.0 78.0M273.0 78.0L274.0 80.0M274.0 80.0L275.0 82.0M115.8 134.1L117.4 133.7M121.1 142.2L122.6 143.1M141.0 189.0L142.3 187.7M211.0 149.0L212.5 146.9M151.0 184.5L149.5 184.1M148.8 186.0L150.4 187.0M148.8 188.0L150.0 190.0M148.7 190.9L149.6 192.1M149.6 192.1L150.6 193.5M226.6 132.1L227.2 132.3M227.2 132.3L227.8 132.8M220.4 224.8L218.3 225.0"/>
<path stroke="#4375c4" d="M194.0 114.3L195.0 116.0M147.1 111.8L148.6 111.6M181.0 102.5L182.2 102.5M275.0 82.0L276.0 84.0M276.0 84.0L277.0 86.0M121.1 160.4L122.0 159.8M141.1 178.9L142.0 180.0M139.9 188.1L141.4 186.5M140.4 193.8L141.5 191.5M146.0 160.0L146.7 158.9M146.0 160.0L146.7 159.7M146.0 160.0L146.7 160.4M208.0 223.5L209.5 223.9M217.7 225.5L219.7 225.8M211.1 222.6L209.6 221.6"/>
<path stroke="#447ac6" d="M277.0 86.0L278.0 88.0M278.0 88.0L279.0 90.1M279.0 90.1L280.0 92.3M280.0 92.3L281.0 94.5M281.0 94.5L282.0 96.5M282.0 96.5L282.9 98.3M282.9 98.3L283.8 99.9M283.8 99.9L284.6 101.5M284.6 101.5L285.5 103.0M285.5 103.0L286.3 104.6M286.3 104.6L287.2 106.2M287.2 106.2L288.0 107.5M288.0 107.5L289.0 108.5M289.0 108.5L290.3 108.9M290.3 108.9L291.7 108.8M291.7 108.8L293.1 108.6M293.1 108.6L294.0 108.5M122.6 143.1L124.2 144.1M142.3 187.7L143.6 186.2M207.5 137.0L210.0 137.5M205.7 141.0L208.7 140.6M146.7 159.6L147.7 159.1M149.5 184.1L148.1 183.7M147.6 184.8L148.8 186.0M147.7 186.0L148.8 188.0M148.0 190.0L148.7 190.9M209.5 223.9L210.9 224.2M226.0 132.0L226.6 132.1M288.5 111.5L287.5 113.0M212.4 223.4L211.1 222.6"/>
<path stroke="#467fc8" d="M195.0 116.0L196.0 117.7M146.0 112.0L147.1 111.8M122.0 159.8L122.9 159.1M214.5 142.7L212.3 145.1M215.6 225.1L217.7 225.5M218.3 144.5L218.9 145.6M221.0 143.2L222.0 144.7"/>
<path stroke="#4884cb" d="M145.1 113.3L146.0 112.5M182.2 102.5L183.5 102.6M146.0 112.0L146.9 112.9M117.4 133.7L118.9 133.5M142.0 180.0L143.0 181.0M141.4 186.5L142.8 185.3M141.5 191.5L142.7 189.1M146.0 160.0L146.7 159.6M212.5 146.9L214.2 144.6M210.9 224.2L212.2 224.5M225.3 131.9L226.0 132.0M218.3 225.0L216.5 225.0M215.0 224.7L213.7 224.1M213.7 224.1L212.4 223.4"/>
<path stroke="#4989ce" d="M142.4 115.7L143.8 114.4M143.8 114.4L145.1 113.3M196.0 117.7L196.9 119.4M146.9 112.9L148.2 114.3M148.2 114.3L149.6 115.7M124.2 144.1L125.6 145.1M212.2 224.5L213.7 224.8M213.7 224.8L215.6 225.1"/>
<path stroke="#4b8ed0" d="M139.7 118.3L141.0 117.0M141.0 117.0L142.4 115.7M146.0 112.0L146.7 110.8M183.5 102.6L184.8 102.6M149.6 115.7L151.0 117.0M151.0 117.0L152.3 118.0M122.9 159.1L123.7 158.4M143.6 186.2L144.7 184.9M143.0 181.0L144.0 181.8M142.8 185.3L144.1 184.3M142.7 189.1L144.0 186.7M148.1 183.7L146.9 183.3M146.7 183.8L147.6 184.8M146.7 184.2L147.7 186.0M224.5 132.0L225.3 131.9M216.5 225.0L215.0 224.7"/>
<path stroke="#4e94d2" d="M196.9 119.4L197.9 121.2M152.3 118.0L153.6 118.9M153.6 118.9L154.8 119.8"/>
<path stroke="#509ad5" d="M145.5 111.3L146.0 112.0M137.1 120.9L138.4 119.6M138.4 119.6L139.7 118.3M146.7 110.8L147.8 109.2M147.8 109.2L148.9 107.3M154.8 119.8L156.0 120.5M118.9 133.5L120.5 133.4M125.6 145.1L126.9 146.3M123.7 158.4L124.5 157.7M144.7 184.9L145.5 184.0M210.0 137.5L212.6 138.1M208.7 140.6L211.8 140.2M214.2 144.6L215.6 142.5M216.0 141.0L214.5 142.7M146.9 183.3L146.0 183.0M146.0 183.0L146.7 183.8M146.0 183.0L146.7 184.2"/>
<path stroke="#52a0d8" d="M197.9 121.2L199.0 123.0M184.8 102.6L186.0 102.5M156.0 120.5L157.1 121.1"/>
<path stroke="#55a6da" d="M143.9 109.1L144.7 110.2M144.7 110.2L145.5 111.3M136.0 122.0L137.1 120.9M148.9 107.3L150.0 105.5M150.0 105.5L151.0 103.9M126.9 146.3L128.1 147.6M144.0 181.8L144.9 182.5M144.1 184.3L145.2 183.5M144.0 186.7L145.2 184.5M217.8 143.6L218.3 144.5M220.1 141.9L221.0 143.2M223.7 132.2L224.5 132.0"/>
<path stroke="#5aacdc" d="M135.1 123.0L136.0 122.0M199.0 123.0L200.2 125.0M186.0 102.5L187.2 102.3M157.1 121.1L158.2 121.7M124.5 157.7L125.5 157.0"/>
<path stroke="#60b2de" d="M142.2 107.1L143.0 108.0M143.0 108.0L143.9 109.1M151.0 103.9L152.0 102.2M152.0 102.2L153.0 100.6M200.2 125.0L201.4 127.1M187.2 102.3L188.4 102.1M120.5 133.4L121.9 133.5M144.9 182.5L145.5 183.0M145.2 183.5L146.0 183.0M145.2 184.5L146.0 183.0M215.6 142.5L216.6 141.0M223.0 132.5L223.7 132.2"/>
<path stroke="#66b7e1" d="M134.3 123.8L135.1 123.0M158.2 121.7L159.2 122.1M125.5 157.0L126.7 156.3"/>
<path stroke="#6bbde3" d="M140.4 105.4L141.3 106.2M141.3 106.2L142.2 107.1M153.0 100.6L154.0 99.0M214.8 89.9L216.5 90.5M201.4 127.1L202.7 129.2M188.4 102.1L189.7 101.8M128.1 147.6L129.3 148.8"/>
<path stroke="#72c2e4" d="M133.6 124.5L134.3 123.8M154.0 99.0L155.0 97.3M209.9 88.0L212.5 89.0M212.5 89.0L214.8 89.9M202.7 129.2L204.0 131.0M189.7 101.8L191.0 101.5M159.2 122.1L160.0 122.5"/>
<path stroke="#7ac8e4" d="M138.6 103.6L139.5 104.5M139.5 104.5L140.4 105.4M205.5 85.9L207.5 87.0M207.5 87.0L209.9 88.0M191.0 101.5L192.4 101.1M121.9 133.5L123.2 133.6M129.3 148.8L130.5 150.0M126.7 156.3L128.0 155.5M212.6 138.1L215.0 138.6M211.8 140.2L214.6 139.8M222.4 133.0L223.0 132.5"/>
<path stroke="#81cee5" d="M133.0 125.0L133.6 124.5M155.0 97.3L156.1 95.7M204.0 131.0L205.2 132.5M192.4 101.1L193.9 100.6M193.9 100.6L195.4 100.1M160.0 122.5L160.7 122.7"/>
<path stroke="#88d3e6" d="M136.9 101.9L137.8 102.8M137.8 102.8L138.6 103.6M201.7 83.5L203.5 84.7M203.5 84.7L205.5 85.9M195.4 100.1L197.0 99.5M197.0 99.5L198.7 98.8M198.7 98.8L200.5 98.0M200.5 98.0L202.3 97.2M202.3 97.2L204.0 96.5M204.0 96.5L205.6 95.8M205.6 95.8L207.0 95.2M207.0 95.2L208.5 94.5M208.5 94.5L210.0 94.0M210.0 94.0L211.7 93.5M211.7 93.5L213.6 93.1M213.6 93.1L215.3 92.7M215.3 92.7L216.5 92.5M207.0 92.7L208.0 92.8M208.0 92.8L209.0 92.9M128.0 155.5L129.3 154.8M217.5 143.0L217.8 143.6M219.5 141.0L220.1 141.9"/>
<path stroke="#8ad6de" d="M156.1 95.7L157.1 94.0M205.2 132.5L206.5 133.8M130.5 150.0L131.6 151.0"/>
<path stroke="#8cdad5" d="M136.0 101.0L136.9 101.9M132.4 125.2L133.0 125.0M200.0 82.5L201.7 83.5M160.7 122.7L161.2 122.9M205.0 92.6L206.0 92.7M206.0 92.7L207.0 92.7M209.0 92.9L210.0 93.0M210.0 93.0L211.0 93.1M123.2 133.6L124.5 133.9M221.8 133.8L222.4 133.0"/>
<path stroke="#8eddcc" d="M135.0 100.1L136.0 101.0M157.1 94.0L158.0 92.5M198.6 81.6L200.0 82.5M206.5 133.8L207.8 135.0M131.6 151.0L132.7 151.8M129.3 154.8L130.6 154.3"/>
<path stroke="#90e0c4" d="M197.3 80.8L198.6 81.6M161.2 122.9L161.7 122.9M204.0 92.6L205.0 92.6M211.0 93.1L212.0 93.2M130.6 154.3L131.7 154.0M215.0 138.6L216.6 139.0M214.6 139.8L216.6 139.5"/>
<path stroke="#8fda98" d="M134.0 99.3L135.0 100.1M158.0 92.5L158.8 91.1M207.8 135.0L209.0 136.0M203.0 92.6L204.0 92.6M212.0 93.2L213.2 93.4M132.7 151.8L133.8 152.7"/>
<path stroke="#8ed36c" d="M131.9 125.1L132.4 125.2M196.2 80.1L197.3 80.8M124.5 133.9L125.7 134.2M131.7 154.0L132.8 153.8M132.8 153.8L133.9 153.8M221.2 134.6L221.8 133.8"/>
<path stroke="#8dcc40" d="M133.0 98.4L134.0 99.3M158.8 91.1L159.5 89.9M195.0 79.5L196.2 80.1M209.0 136.0L210.3 136.8M161.7 122.9L162.0 123.0M202.0 92.6L203.0 92.6M213.2 93.4L214.5 93.6M133.8 152.7L135.0 153.5"/>
<path stroke="#8cc614" d="M162.3 121.4L162.5 121.0M135.0 153.5L136.2 154.4M133.9 153.8L135.0 154.0M135.0 154.0L136.2 154.4"/>
<path stroke="#96ca19" d="M132.0 97.5L133.0 98.4M159.5 89.9L160.2 88.7M193.7 78.9L195.0 79.5M210.3 136.8L211.6 137.5M161.8 122.9L162.1 122.1M162.1 122.1L162.3 121.4M201.0 92.5L202.0 92.6M214.5 93.6L215.7 93.8"/>
<path stroke="#a0ce1e" d="M131.5 124.9L131.9 125.1M192.4 78.4L193.7 78.9M160.8 125.4L161.4 124.0M161.4 124.0L161.8 122.9M125.7 134.2L126.8 134.7M136.2 154.4L137.4 155.3M137.4 155.3L138.7 156.2M136.2 154.4L137.4 155.0M137.4 155.0L138.7 155.7M220.5 135.5L221.2 134.6"/>
<path stroke="#aad122" d="M131.0 96.5L132.0 97.5M160.2 88.7L161.0 87.5M211.6 137.5L212.9 138.1M159.3 129.1L160.1 127.2M160.1 127.2L160.8 125.4M200.0 92.5L201.0 92.5M215.7 93.8L216.5 94.0"/>
<path stroke="#b4d527" d="M191.2 77.9L192.4 78.4M157.8 132.9L158.5 131.0M158.5 131.0L159.3 129.1M138.7 156.2L140.0 157.0M140.0 157.0L141.6 157.9M138.7 155.7L140.0 156.5M140.0 156.5L141.6 157.4M219.6 136.6L220.5 135.5"/>
<path stroke="#bbd82c" d="M130.0 95.5L131.0 96.5M161.0 87.5L161.8 86.2M190.0 77.5L191.2 77.9M212.9 138.1L214.0 138.5M156.3 136.9L157.0 134.9M157.0 134.9L157.8 132.9M199.0 92.5L200.0 92.5M141.6 157.9L143.3 158.7M143.3 158.7L144.9 159.5M141.6 157.4L143.3 158.4M143.3 158.4L144.9 159.3"/>
<path stroke="#c2dc32" d="M131.0 124.5L131.5 124.9M214.0 138.5L215.0 138.8M148.2 155.7L149.0 154.0M149.0 154.0L149.7 152.5M149.7 152.5L150.5 150.9M150.5 150.9L151.2 149.3M151.2 149.3L152.0 147.5M152.0 147.5L152.9 145.5M152.9 145.5L153.8 143.3M153.8 143.3L154.6 141.1M154.6 141.1L155.5 139.0M155.5 139.0L156.3 136.9M126.8 134.7L127.8 135.3M144.9 159.5L146.0 160.0M144.9 159.3L146.0 160.0M217.7 139.2L218.6 137.9M218.6 137.9L219.6 136.6"/>
<path stroke="#c8df37" d="M129.0 94.5L130.0 95.5M161.8 86.2L162.7 84.9M189.0 77.1L190.0 77.5M215.0 138.8L215.8 138.9M215.8 138.9L216.5 139.0M146.5 158.9L147.3 157.4M147.3 157.4L148.2 155.7M198.0 92.4L199.0 92.5"/>
<path stroke="#cfe23c" d="M188.1 76.8L189.0 77.1M216.5 139.0L217.0 139.0M146.0 160.0L146.5 158.9M162.0 110.0L162.3 109.3M217.0 140.0L217.7 139.2"/>
<path stroke="#d8e23e" d="M128.0 93.5L129.0 94.5M162.7 84.9L163.6 83.6M197.0 92.3L198.0 92.4"/>
<path stroke="#e0e240" d="M130.5 124.0L131.0 124.5M187.1 76.5L188.1 76.8M162.3 109.3L162.8 108.3M162.8 108.3L163.4 107.1M145.5 159.6L146.0 160.0"/>
<path stroke="#e8e242" d="M127.0 92.5L128.0 93.5M163.6 83.6L164.5 82.5M186.0 76.3L187.1 76.5M196.0 92.3L197.0 92.3"/>
<path stroke="#f1e244" d="M163.4 107.1L164.0 106.0M127.8 135.3L128.7 136.0"/>
<path stroke="#f3db42" d="M126.0 91.5L127.0 92.5M164.5 82.5L165.3 81.5M184.6 76.1L186.0 76.3M164.0 106.0L164.6 104.9M195.0 92.3L196.0 92.3"/>
<path stroke="#f4d440" d="M130.0 123.3L130.5 124.0M183.1 75.8L184.6 76.1M164.6 104.9L165.2 103.8M288.9 75.2L290.0 75.3M290.0 75.3L291.3 75.3M291.3 75.3L292.8 75.3M292.8 75.3L294.1 75.3M294.1 75.3L295.0 75.3M144.8 159.0L145.5 159.6M144.5 182.6L145.0 182.8M145.0 182.8L145.5 183.0M145.5 183.0L146.0 183.2M146.0 183.2L146.5 183.4"/>
<path stroke="#f6ce3e" d="M125.0 90.5L126.0 91.5M165.3 81.5L166.1 80.6M194.1 92.2L195.0 92.3M286.9 75.0L287.9 75.1M287.9 75.1L288.9 75.2"/>
<path stroke="#f8c73c" d="M181.5 75.7L183.1 75.8M165.2 103.8L165.8 102.6M285.1 74.6L286.0 74.8M286.0 74.8L286.9 75.0M128.7 136.0L129.6 136.9"/>
<path stroke="#f8be38" d="M124.0 89.5L125.0 90.5M166.1 80.6L166.9 79.8M180.0 75.6L181.5 75.7M165.8 102.6L166.5 101.5M193.1 92.2L194.1 92.2"/>
<path stroke="#f8b634" d="M129.4 122.4L130.0 123.3M283.5 74.1L284.3 74.4M284.3 74.4L285.1 74.6M143.9 158.1L144.8 159.0"/>
<path stroke="#f7ae30" d="M123.0 88.5L124.0 89.5M166.9 79.8L168.0 79.0M178.5 75.6L180.0 75.6M166.5 101.5L167.3 100.3M192.0 92.2L193.1 92.2"/>
<path stroke="#f7a52c" d="M168.0 79.0L169.3 78.2M177.0 75.7L178.5 75.6M167.3 100.3L168.1 99.2M281.8 73.5L282.7 73.8M282.7 73.8L283.5 74.1"/>
<path stroke="#f6a02a" d="M122.0 87.5L123.0 88.5M190.9 92.2L192.0 92.2"/>
<path stroke="#f69a27" d="M128.8 121.5L129.4 122.4M169.3 78.2L170.8 77.5M170.8 77.5L172.4 76.8M175.5 76.0L177.0 75.7M168.1 99.2L169.0 98.0M218.0 95.0L218.7 94.7M279.9 72.7L280.9 73.1M280.9 73.1L281.8 73.5M129.6 136.9L130.5 137.8M143.0 157.0L143.9 158.1"/>
<path stroke="#f59424" d="M121.0 86.5L122.0 87.5M174.0 76.3L175.5 76.0M169.0 98.0L170.0 97.0M189.7 92.2L190.9 92.2"/>
<path stroke="#f48f22" d="M172.4 76.8L174.0 76.3M170.0 97.0L171.1 96.1M218.7 94.7L219.8 94.3M278.1 71.6L279.0 72.2M279.0 72.2L279.9 72.7"/>
<path stroke="#f38722" d="M120.0 85.5L121.0 86.5M188.4 92.2L189.7 92.2M130.5 137.8L131.4 138.8M141.9 155.4L143.0 157.0"/>
<path stroke="#f28022" d="M128.1 120.4L128.8 121.5M171.1 96.1L172.4 95.2M172.4 95.2L173.7 94.4M276.3 70.2L277.2 70.9M277.2 70.9L278.1 71.6M131.4 138.8L132.2 139.9"/>
<path stroke="#f07821" d="M119.0 84.4L120.0 85.5M187.0 92.2L188.4 92.2M140.7 153.5L141.9 155.4"/>
<path stroke="#ef7021" d="M118.1 83.3L119.0 84.4M173.7 94.4L175.0 93.8M175.0 93.8L176.2 93.4M185.3 92.3L187.0 92.2M219.8 94.3L220.9 93.7M275.4 69.5L276.3 70.2M132.2 139.9L133.1 141.1"/>
<path stroke="#ed6820" d="M127.4 119.2L128.1 120.4M176.2 93.4L177.4 93.1M177.4 93.1L178.6 92.9M181.7 92.5L183.5 92.4M183.5 92.4L185.3 92.3M274.5 68.8L275.4 69.5M133.1 141.1L134.0 142.5M139.5 151.4L140.7 153.5"/>
<path stroke="#ec6120" d="M117.1 82.2L118.1 83.3M178.6 92.9L180.0 92.7M180.0 92.7L181.7 92.5M220.9 93.7L222.0 93.0M273.7 68.1L274.5 68.8M134.0 142.5L135.0 144.1"/>
<path stroke="#ea5a20" d="M116.0 81.0L117.1 82.2M135.0 144.1L136.1 145.8M136.1 145.8L137.2 147.7M138.3 149.5L139.5 151.4"/>
<path stroke="#e8521f" d="M114.9 79.7L116.0 81.0M272.9 67.3L273.7 68.1M288.9 93.0L290.0 93.2M290.0 93.2L291.3 93.3M291.3 93.3L292.8 93.3M292.8 93.3L294.1 93.2M294.1 93.2L295.0 93.2M137.2 147.7L138.3 149.5"/>
<path stroke="#e64d1f" d="M126.6 117.9L127.4 119.2M222.0 93.0L223.0 92.1M272.0 66.5L272.9 67.3"/>
<path stroke="#e4481f" d="M112.4 77.0L113.7 78.4M113.7 78.4L114.9 79.7M286.9 92.5L287.9 92.8M287.9 92.8L288.9 93.0"/>
<path stroke="#e2421f" d="M223.0 92.1L223.9 91.1M271.0 65.6L272.0 66.5"/>
<path stroke="#e03d1f" d="M109.4 73.8L111.0 75.5M111.0 75.5L112.4 77.0M125.8 116.5L126.6 117.9M270.0 64.6L271.0 65.6M285.1 91.4L286.0 92.0M286.0 92.0L286.9 92.5"/>
<path stroke="#dd391f" d="M223.9 91.1L224.9 89.9M283.5 90.0L284.3 90.8M284.3 90.8L285.1 91.4"/>
<path stroke="#da341e" d="M105.7 70.2L107.6 72.0M107.6 72.0L109.4 73.8M125.0 115.1L125.8 116.5M269.0 63.5L270.0 64.6M281.8 87.8L282.7 89.0M282.7 89.0L283.5 90.0"/>
<path stroke="#d8301e" d="M123.4 112.0L124.2 113.5M124.2 113.5L125.0 115.1M224.9 89.9L226.0 88.5M268.0 62.5L269.0 63.5M279.9 85.0L280.9 86.5M280.9 86.5L281.8 87.8"/>
<path stroke="#d52c1e" d="M68.0 53.0L68.9 53.0M68.9 53.0L70.1 53.0M70.1 53.0L71.5 53.0M71.5 53.0L73.0 53.0M73.0 53.0L74.6 53.0M74.6 53.0L76.4 53.0M76.4 53.0L78.3 53.1M78.3 53.1L80.0 53.3M80.0 53.3L81.6 53.6M81.6 53.6L83.1 53.9M83.1 53.9L84.5 54.4M84.5 54.4L86.0 55.0M86.0 55.0L87.5 55.7M87.5 55.7L89.0 56.6M89.0 56.6L90.5 57.5M90.5 57.5L92.0 58.5M92.0 58.5L93.5 59.5M93.5 59.5L95.0 60.6M95.0 60.6L96.5 61.8M96.5 61.8L98.0 63.0M98.0 63.0L99.5 64.3M99.5 64.3L100.9 65.6M100.9 65.6L102.4 67.0M102.4 67.0L104.0 68.5M104.0 68.5L105.7 70.2M68.0 54.0L68.9 54.0M68.9 54.0L70.1 53.9M70.1 53.9L71.5 53.9M71.5 53.9L73.0 54.0M73.0 54.0L74.6 54.1M74.6 54.1L76.3 54.3M76.3 54.3L78.1 54.6M78.1 54.6L80.0 55.0M80.0 55.0L82.0 55.7M82.0 55.7L84.0 56.5M84.0 56.5L86.0 57.4M86.0 57.4L88.0 58.5M88.0 58.5L89.9 59.7M89.9 59.7L91.7 61.1M91.7 61.1L93.4 62.5M93.4 62.5L95.0 64.0M95.0 64.0L96.4 65.5M96.4 65.5L97.7 67.0M97.7 67.0L98.8 68.5M98.8 68.5L100.0 70.0M100.0 70.0L101.2 71.4M101.2 71.4L102.3 72.8M102.3 72.8L103.4 74.3M103.4 74.3L104.5 75.8M104.5 75.8L105.5 77.5M105.5 77.5L106.4 79.3M106.4 79.3L107.4 81.1M107.4 81.1L108.3 82.9M108.3 82.9L109.3 84.6M109.3 84.6L110.3 86.3M110.3 86.3L111.3 88.1M111.3 88.1L112.3 90.0M112.3 90.0L113.3 92.2M113.3 92.2L114.3 94.7M114.3 94.7L115.3 97.1M115.3 97.1L116.3 99.2M116.3 99.2L117.2 100.9M117.2 100.9L118.1 102.3M118.1 102.3L118.9 103.7M118.9 103.7L119.7 105.0M119.7 105.0L120.5 106.4M120.5 106.4L121.2 107.7M121.2 107.7L121.9 109.1M121.9 109.1L122.6 110.5M122.6 110.5L123.4 112.0M226.0 88.5L227.2 86.9M227.2 86.9L228.4 85.0M228.4 85.0L229.7 83.1M229.7 83.1L231.0 81.0M231.0 81.0L232.3 78.8M232.3 78.8L233.7 76.6M233.7 76.6L235.0 74.2M235.0 74.2L236.3 72.0M236.3 72.0L237.4 69.8M237.4 69.8L238.5 67.6M238.5 67.6L239.5 65.4M239.5 65.4L240.5 63.5M240.5 63.5L241.4 61.8M241.4 61.8L242.3 60.2M242.3 60.2L243.2 58.7M243.2 58.7L244.0 57.5M244.0 57.5L244.8 56.5M244.8 56.5L245.5 55.6M245.5 55.6L246.3 54.9M246.3 54.9L247.0 54.3M247.0 54.3L247.8 53.9M247.8 53.9L248.5 53.6M248.5 53.6L249.3 53.4M249.3 53.4L250.0 53.3M250.0 53.3L250.6 53.2M250.6 53.2L251.2 53.1M251.2 53.1L251.8 53.0M251.8 53.0L252.4 53.0M252.4 53.0L253.0 53.0M253.0 53.0L253.7 52.9M253.7 52.9L254.3 52.9M254.3 52.9L255.0 53.0M255.0 53.0L255.7 53.1M255.7 53.1L256.5 53.3M256.5 53.3L257.2 53.5M257.2 53.5L258.0 53.8M258.0 53.8L258.8 54.1M258.8 54.1L259.5 54.5M259.5 54.5L260.2 55.0M260.2 55.0L261.0 55.5M261.0 55.5L261.7 56.1M261.7 56.1L262.4 56.7M262.4 56.7L263.2 57.4M263.2 57.4L264.0 58.2M264.0 58.2L264.9 59.2M264.9 59.2L265.9 60.3M265.9 60.3L267.0 61.4M267.0 61.4L268.0 62.5M264.0 58.0L264.7 58.9M264.7 58.9L265.8 60.1M265.8 60.1L266.9 61.5M266.9 61.5L268.0 63.0M268.0 63.0L269.0 64.5M269.0 64.5L270.0 66.1M270.0 66.1L271.0 67.8M271.0 67.8L272.0 69.5M272.0 69.5L272.9 71.2M272.9 71.2L273.7 73.0M273.7 73.0L274.5 74.7M274.5 74.7L275.4 76.5M275.4 76.5L276.3 78.3M276.3 78.3L277.2 80.1M277.2 80.1L278.1 81.9M278.1 81.9L279.0 83.5M279.0 83.5L279.9 85.0"/></g>
<clipPath id="c408"><rect x="481.0" y="0" width="218.2" height="327"/></clipPath><g clip-path="url(#c408)" fill="none" stroke-width="6.4" stroke-linecap="round"><path stroke="#3044ad" d="M477.6 182.5L478.5 182.5M478.5 182.5L479.7 182.6M479.7 182.6L481.1 182.6M481.1 182.6L482.6 182.5M482.6 182.5L484.2 182.2M484.2 182.2L486.0 181.8M486.0 181.8L487.8 181.2M487.8 181.2L489.6 180.5M489.6 180.5L491.4 179.6M491.4 179.6L493.2 178.6M493.2 178.6L494.9 177.5M494.9 177.5L496.6 176.5M496.6 176.5L498.2 175.6M498.2 175.6L499.7 174.7M499.7 174.7L501.2 173.8M501.2 173.8L502.6 173.0M502.6 173.0L503.9 172.3M503.9 172.3L505.1 171.7M505.1 171.7L506.3 171.2M506.3 171.2L507.6 170.6M507.6 170.6L509.1 170.1M509.1 170.1L510.6 169.5M510.6 169.5L512.1 169.0M512.1 169.0L513.6 168.5M513.6 168.5L514.9 168.0M514.9 168.0L516.0 167.6M516.0 167.6L517.2 167.1M517.2 167.1L518.6 166.5M478.6 187.0L479.5 186.9M479.5 186.9L480.8 186.7M480.8 186.7L482.2 186.6M482.2 186.6L483.6 187.0M483.6 187.0L484.8 188.0M484.8 188.0L486.1 189.5M486.1 189.5L487.3 191.1M487.3 191.1L488.6 192.5M488.6 192.5L489.8 193.6M489.8 193.6L491.0 194.6M491.0 194.6L492.3 195.5M492.3 195.5L493.9 196.5M493.9 196.5L495.9 197.6M495.9 197.6L498.2 198.7M498.2 198.7L500.6 199.7M500.6 199.7L503.1 200.5M503.1 200.5L505.6 201.0M505.6 201.0L508.3 201.4M508.3 201.4L511.0 201.5M511.0 201.5L513.6 201.5M513.6 201.5L516.1 201.2M516.1 201.2L518.6 200.7M518.6 200.7L521.1 200.1M521.1 200.1L523.6 199.5M523.6 199.5L526.1 198.9M526.1 198.9L528.6 198.3M528.6 198.3L531.1 197.7M531.1 197.7L533.6 197.0M533.6 197.0L536.3 196.2M536.3 196.2L539.2 195.4M539.2 195.4L541.9 194.5M541.9 194.5L544.2 193.5M494.6 196.5L496.0 196.2M496.0 196.2L498.0 195.8M498.0 195.8L500.1 195.3M500.1 195.3L502.0 194.6M502.0 194.6L503.6 193.6M503.6 193.6L505.0 192.5M505.0 192.5L506.4 191.2M506.4 191.2L507.6 190.0M507.6 190.0L508.7 188.9M508.7 188.9L509.7 187.8M509.7 187.8L510.6 186.7M510.6 186.7L511.6 185.6M511.6 185.6L512.6 184.5M512.6 184.5L513.6 183.3M513.6 183.3L514.6 182.1M514.6 182.1L515.6 181.0M515.6 181.0L516.7 179.8M516.7 179.8L517.8 178.7M517.8 178.7L518.9 177.6M518.9 177.6L520.0 176.5M520.0 176.5L521.0 175.5M521.0 175.5L522.0 174.6M522.0 174.6L523.0 173.8M523.0 173.8L524.1 173.0M524.1 173.0L525.4 172.3M525.4 172.3L526.7 171.6M526.7 171.6L528.2 171.0M528.2 171.0L529.6 170.5M529.6 170.5L531.1 170.2M531.1 170.2L532.6 170.0M532.6 170.0L534.1 169.9M534.1 169.9L535.6 170.0M535.6 170.0L537.1 170.2M537.1 170.2L538.7 170.5M538.7 170.5L540.2 170.9M540.2 170.9L541.6 171.5M541.6 171.5L542.9 172.2M542.9 172.2L544.2 173.0M544.2 173.0L545.4 174.0M545.4 174.0L546.6 175.0M476.6 222.0L477.3 222.0M477.3 222.0L478.4 222.0M478.4 222.0L479.7 222.0M479.7 222.0L481.6 222.0M481.6 222.0L484.1 221.9M484.1 221.9L487.0 221.8M487.0 221.8L490.3 221.6M490.3 221.6L493.6 221.5M493.6 221.5L497.1 221.4M497.1 221.4L500.9 221.3M500.9 221.3L504.5 221.2M504.5 221.2L507.6 221.0M507.6 221.0L509.8 220.7M509.8 220.7L511.5 220.4M511.5 220.4L513.0 220.0M513.0 220.0L514.6 219.5M514.6 219.5L516.5 218.9M516.5 218.9L518.5 218.3M518.5 218.3L520.6 217.5M520.6 217.5L522.5 216.5M522.5 216.5L524.3 215.2M524.3 215.2L526.0 213.6M526.0 213.6L527.8 211.9M527.8 211.9L529.6 210.0M529.6 210.0L531.6 207.9M531.6 207.9L533.8 205.6M533.8 205.6L535.9 203.3M535.9 203.3L537.8 201.2M476.6 224.5L477.3 224.5M477.3 224.5L478.4 224.5M478.4 224.5L479.7 224.5M479.7 224.5L481.6 224.5M481.6 224.5L484.1 224.6M484.1 224.6L487.0 224.7M487.0 224.7L490.3 224.9M490.3 224.9L493.6 225.0M493.6 225.0L497.0 225.1M497.0 225.1L500.7 225.3M500.7 225.3L504.3 225.4M504.3 225.4L507.6 225.5M507.6 225.5L510.6 225.6M510.6 225.6L513.4 225.6M513.4 225.6L516.0 225.6M516.0 225.6L518.6 225.5M518.6 225.5L521.3 225.3M521.3 225.3L523.9 225.1M523.9 225.1L526.4 224.7M526.4 224.7L528.6 224.0M528.6 224.0L530.4 222.9M530.4 222.9L531.8 221.4M531.8 221.4L533.2 219.7M533.2 219.7L534.6 218.0M534.6 218.0L536.2 216.2M536.2 216.2L537.8 214.4M537.8 214.4L539.3 212.4M539.3 212.4L540.8 210.3M528.6 155.6L530.2 156.1M530.2 156.1L532.6 156.9M532.6 156.9L535.2 157.8M535.2 157.8L537.6 158.6M537.6 158.6L539.7 159.4M539.7 159.4L541.7 160.2M541.7 160.2L543.7 160.9M543.7 160.9L545.6 161.5M545.6 161.5L547.5 161.9M547.5 161.9L549.3 162.2M549.3 162.2L551.1 162.4M551.1 162.4L553.1 162.5M553.1 162.5L555.3 162.5M555.3 162.5L557.5 162.4M557.5 162.4L559.9 162.1M559.9 162.1L562.2 161.7M562.2 161.7L564.5 161.1M564.5 161.1L566.9 160.4M566.9 160.4L569.2 159.5M569.2 159.5L571.4 158.6M571.4 158.6L573.3 157.5M573.3 157.5L575.1 156.4M575.1 156.4L576.9 155.1M576.9 155.1L578.6 154.0M578.6 154.0L580.5 152.9M580.5 152.9L582.6 151.7M582.6 151.7L584.3 150.7M584.3 150.7L585.6 150.0M566.6 165.5L568.5 166.5M568.5 166.5L570.5 167.5M570.5 167.5L572.6 168.4M572.6 168.4L574.5 169.2M574.5 169.2L576.3 169.9M576.3 169.9L578.1 170.5M578.1 170.5L579.8 171.0M579.8 171.0L581.6 171.5M581.6 171.5L583.5 171.9M583.5 171.9L585.5 172.4M585.5 172.4L587.4 172.7M587.4 172.7L589.1 172.9M589.1 172.9L590.6 173.0M590.6 173.0L592.0 173.0M592.0 173.0L593.4 172.9M593.4 172.9L594.6 172.8M594.6 172.8L595.7 172.7M595.7 172.7L596.7 172.5M596.7 172.5L597.7 172.2M597.7 172.2L598.9 171.7M598.9 171.7L600.4 170.9M600.4 170.9L602.0 169.9M602.0 169.9L603.8 168.7M603.8 168.7L605.6 167.5M605.6 167.5L607.5 166.2M607.5 166.2L609.6 164.8M609.6 164.8L611.6 163.4M611.6 163.4L613.6 161.9M613.6 161.9L615.4 160.3M615.4 160.3L617.1 158.7M617.1 158.7L618.8 157.1M618.8 157.1L620.6 155.5M620.6 155.5L622.5 153.9M622.5 153.9L624.4 152.4M624.4 152.4L626.4 150.9M626.4 150.9L628.2 149.7M628.2 149.7L630.0 148.7M630.0 148.7L631.9 148.0M631.9 148.0L633.5 147.4M633.5 147.4L634.6 147.0M568.6 189.5L571.2 190.2M571.2 190.2L573.9 190.8M573.9 190.8L576.8 191.5M576.8 191.5L579.8 192.3M579.8 192.3L583.0 193.2M583.0 193.2L586.5 194.1M586.5 194.1L590.0 195.0M590.0 195.0L593.6 196.0M593.6 196.0L597.4 197.0M597.4 197.0L601.4 198.0M601.4 198.0L605.2 199.0M605.2 199.0L608.3 200.0M608.3 200.0L610.6 201.1M610.6 201.1L612.4 202.2M612.4 202.2L613.7 203.3M613.7 203.3L614.6 204.0M563.6 198.0L564.9 200.7M564.9 200.7L566.1 203.6M566.1 203.6L567.4 206.8M567.4 206.8L568.6 210.0M568.6 210.0L569.9 213.4M569.9 213.4L571.1 217.0M571.1 217.0L572.4 220.6M572.4 220.6L573.6 224.0M573.6 224.0L574.8 227.1M574.8 227.1L576.0 230.1M576.0 230.1L577.3 232.9M577.3 232.9L578.6 235.5M578.6 235.5L580.0 238.0M580.0 238.0L581.5 240.4M581.5 240.4L583.1 242.6M583.1 242.6L584.6 244.5M584.6 244.5L586.1 246.0M586.1 246.0L587.7 247.3M587.7 247.3L589.2 248.2M589.2 248.2L590.6 249.0M590.6 249.0L591.9 249.5M591.9 249.5L593.0 249.9M593.0 249.9L594.2 249.9M594.2 249.9L595.6 249.8M595.6 249.8L597.4 249.4M597.4 249.4L599.5 248.8M599.5 248.8L601.6 247.9M601.6 247.9L603.6 247.0M603.6 247.0L605.4 245.9M605.4 245.9L607.2 244.7M607.2 244.7L608.9 243.4M608.9 243.4L610.6 242.0M610.6 242.0L612.2 240.4M612.2 240.4L613.8 238.5M613.8 238.5L615.4 236.7M615.4 236.7L617.0 235.3M617.0 235.3L618.6 234.3M618.6 234.3L620.2 233.5M620.2 233.5L621.8 233.0M621.8 233.0L623.6 232.5M623.6 232.5L625.5 232.1M625.5 232.1L627.5 231.9M627.5 231.9L629.6 231.7M629.6 231.7L631.6 231.5M631.6 231.5L633.5 231.3M633.5 231.3L635.4 231.2M635.4 231.2L637.3 231.1M637.3 231.1L639.1 231.0M639.1 231.0L641.0 231.0M641.0 231.0L642.8 231.1M642.8 231.1L644.6 231.2M644.6 231.2L646.3 231.2M646.3 231.2L647.7 231.0M647.7 231.0L649.0 230.7M649.0 230.7L650.3 230.4M650.3 230.4L651.6 230.0M651.6 230.0L653.0 229.6M653.0 229.6L654.5 229.1M654.5 229.1L655.9 228.7M655.9 228.7L657.3 228.5M657.3 228.5L658.6 228.5M658.6 228.5L659.9 228.8M659.9 228.8L661.3 229.1M661.3 229.1L662.6 229.5M662.6 229.5L664.1 230.0M664.1 230.0L665.8 230.7M665.8 230.7L667.3 231.3M667.3 231.3L668.3 231.7M559.6 156.0L561.0 156.3M561.0 156.3L562.5 157.2M562.5 157.2L564.0 158.5M564.0 158.5L565.6 160.0M565.6 160.0L567.2 161.7M567.2 161.7L568.8 163.7M568.8 163.7L570.5 165.9M570.5 165.9L572.2 168.0M572.2 168.0L573.9 170.1M573.9 170.1L575.6 172.2M575.6 172.2L577.4 174.4M577.4 174.4L579.1 176.5M579.1 176.5L580.8 178.6M580.8 178.6L582.5 180.7M582.5 180.7L584.3 182.8M584.3 182.8L586.0 184.8M586.0 184.8L587.8 186.8M587.8 186.8L589.5 188.7M589.5 188.7L591.3 190.5M591.3 190.5L592.9 192.0M592.9 192.0L594.3 193.2M594.3 193.2L595.6 194.2M595.6 194.2L597.0 195.1M597.0 195.1L598.6 196.0M598.6 196.0L600.8 196.8M600.8 196.8L603.3 197.6M603.3 197.6L605.7 198.4M605.7 198.4L607.8 199.3M568.6 175.0L570.4 176.6M570.4 176.6L573.0 178.9M573.0 178.9L575.9 181.5M575.9 181.5L578.6 184.0M578.6 184.0L581.1 186.3M581.1 186.3L583.6 188.6M583.6 188.6L586.1 190.8M586.1 190.8L588.6 193.0M588.6 193.0L591.3 195.3M591.3 195.3L594.2 197.6M594.2 197.6L596.8 199.6M596.8 199.6L598.6 201.0M564.6 199.0L565.8 200.1M565.8 200.1L567.1 201.2M567.1 201.2L568.6 202.2M568.6 202.2L570.4 203.2M570.4 203.2L572.6 204.2M572.6 204.2L575.2 205.1M575.2 205.1L577.9 205.9M577.9 205.9L580.5 206.6M580.5 206.6L583.1 207.1M583.1 207.1L585.7 207.4M585.7 207.4L588.2 207.7M588.2 207.7L590.6 208.0M590.6 208.0L592.7 208.4M592.7 208.4L594.6 208.9M594.6 208.9L596.5 209.4M596.5 209.4L598.6 210.0M598.6 210.0L601.2 210.8M601.2 210.8L604.1 211.6M604.1 211.6L606.8 212.4M606.8 212.4L608.6 213.0M559.6 201.0L561.0 203.1M561.0 203.1L562.5 204.8M562.5 204.8L564.1 206.4M564.1 206.4L565.6 208.0M565.6 208.0L567.0 209.6M567.0 209.6L568.4 211.2M568.4 211.2L569.9 212.6M569.9 212.6L571.6 214.0M571.6 214.0L573.6 215.3M573.6 215.3L575.9 216.5M575.9 216.5L578.2 217.6M578.2 217.6L580.6 218.5M580.6 218.5L583.0 219.3M583.0 219.3L585.4 219.9M585.4 219.9L587.9 220.3M587.9 220.3L590.5 220.5M590.5 220.5L593.5 220.3M593.5 220.3L596.6 219.7M596.6 219.7L599.7 219.0M599.7 219.0L602.5 218.5M691.8 120.0L690.6 122.5M690.6 122.5L689.5 125.3M689.5 125.3L688.3 128.0M688.3 128.0L687.2 130.6M687.2 130.6L686.1 133.0M686.1 133.0L685.0 135.2M685.0 135.2L683.8 137.5M683.8 137.5L682.6 139.8M682.6 139.8L681.3 142.3M681.3 142.3L679.9 144.8M679.9 144.8L678.5 147.4M678.5 147.4L677.1 150.0M677.1 150.0L675.7 152.7M675.7 152.7L674.3 155.5M674.3 155.5L672.9 158.3M672.9 158.3L671.6 161.0M671.6 161.0L670.3 163.6M670.3 163.6L669.0 166.2M669.0 166.2L667.8 168.7M667.8 168.7L666.6 171.0M666.6 171.0L665.5 173.2M665.5 173.2L664.5 175.2M664.5 175.2L663.6 177.1M663.6 177.1L662.6 179.0M662.6 179.0L661.6 180.8M661.6 180.8L660.6 182.6M660.6 182.6L659.6 184.3M659.6 184.3L658.6 186.0M658.6 186.0L657.5 187.9M657.5 187.9L656.4 189.9M656.4 189.9L655.3 191.7M655.3 191.7L654.6 193.0M691.6 141.5L690.0 142.1M690.0 142.1L688.5 142.9M688.5 142.9L687.0 143.9M687.0 143.9L685.6 145.0M685.6 145.0L684.3 146.2M684.3 146.2L683.0 147.6M683.0 147.6L681.8 149.1M681.8 149.1L680.6 150.5M680.6 150.5L679.5 151.8M679.5 151.8L678.5 153.2M678.5 153.2L677.6 154.5M677.6 154.5L676.6 156.0M676.6 156.0L675.6 157.6M675.6 157.6L674.6 159.4M674.6 159.4L673.6 161.2M673.6 161.2L672.6 163.0M672.6 163.0L671.6 164.8M671.6 164.8L670.6 166.5M670.6 166.5L669.6 168.2M669.6 168.2L668.6 170.0M668.6 170.0L667.5 171.9M667.5 171.9L666.4 173.9M666.4 173.9L665.3 175.7M665.3 175.7L664.6 177.0M691.6 152.5L690.0 153.4M690.0 153.4L688.5 154.5M688.5 154.5L687.0 155.7M687.0 155.7L685.6 157.0M685.6 157.0L684.3 158.4M684.3 158.4L683.0 159.9M683.0 159.9L681.8 161.4M681.8 161.4L680.6 163.0M680.6 163.0L679.4 164.6M679.4 164.6L678.1 166.2M678.1 166.2L676.9 167.9M676.9 167.9L675.6 169.5M675.6 169.5L674.4 171.2M674.4 171.2L673.1 172.8M673.1 172.8L671.9 174.5M671.9 174.5L670.6 176.0M670.6 176.0L669.4 177.4M669.4 177.4L668.1 178.7M668.1 178.7L666.9 179.9M666.9 179.9L665.6 181.0M665.6 181.0L664.2 182.0M664.2 182.0L662.8 182.8M662.8 182.8L661.5 183.5M661.5 183.5L660.6 184.0M698.6 170.4L697.2 171.2M697.2 171.2L695.1 172.3M695.1 172.3L692.8 173.5M692.8 173.5L690.8 174.6M690.8 174.6L689.2 175.6M689.2 175.6L687.6 176.6M687.6 176.6L686.2 177.5M686.2 177.5L684.7 178.3M684.7 178.3L683.2 179.0M683.2 179.0L681.7 179.7M681.7 179.7L680.2 180.3M680.2 180.3L678.6 180.8M678.6 180.8L676.9 181.3M676.9 181.3L675.1 181.7M675.1 181.7L673.3 182.1M673.3 182.1L671.6 182.5M671.6 182.5L670.1 182.8M670.1 182.8L668.6 183.1M668.6 183.1L667.1 183.3M667.1 183.3L665.6 183.5M665.6 183.5L663.8 183.7M663.8 183.7L661.7 183.8M661.7 183.8L659.9 183.9M659.9 183.9L658.6 184.0M690.8 186.5L687.9 186.7M687.9 186.7L684.6 187.0M684.6 187.0L681.3 187.3M681.3 187.3L678.6 187.5M678.6 187.5L676.7 187.5M676.7 187.5L675.2 187.3M675.2 187.3L673.9 187.2M673.9 187.2L672.4 187.0M672.4 187.0L670.5 186.9M670.5 186.9L668.5 186.8M668.5 186.8L666.5 186.7M666.5 186.7L664.6 186.6M664.6 186.6L662.9 186.5M662.9 186.5L661.4 186.4M661.4 186.4L660.0 186.3M660.0 186.3L658.6 186.4M658.6 186.4L657.2 186.7M657.2 186.7L655.7 187.2M655.7 187.2L654.5 187.7M654.5 187.7L653.6 188.0M691.6 195.5L690.2 195.7M690.2 195.7L688.8 196.0M688.8 196.0L687.5 196.4M687.5 196.4L686.1 197.0M686.1 197.0L684.5 197.7M684.5 197.7L682.7 198.6M682.7 198.6L681.0 199.6M681.0 199.6L679.2 200.6M679.2 200.6L677.5 201.7M677.5 201.7L675.7 203.1M675.7 203.1L674.0 204.1M674.0 204.1L672.4 204.5M672.4 204.5L670.9 204.0M670.9 204.0L669.6 203.0M669.6 203.0L668.2 201.6M668.2 201.6L666.9 200.1M666.9 200.1L665.5 198.6M665.5 198.6L664.1 196.8M664.1 196.8L662.7 195.0M662.7 195.0L661.4 193.3M661.4 193.3L660.0 191.5M660.0 191.5L658.6 189.7M658.6 189.7L657.4 188.1M657.4 188.1L656.6 187.0M686.6 194.5L684.6 194.1M684.6 194.1L683.0 193.6M683.0 193.6L681.3 193.0M681.3 193.0L679.2 192.5M679.2 192.5L676.4 192.0M676.4 192.0L673.1 191.5M673.1 191.5L669.8 191.0M669.8 191.0L666.9 190.5M666.9 190.5L664.3 190.1M664.3 190.1L662.0 189.6M662.0 189.6L660.0 189.3M660.0 189.3L658.6 189.0M698.6 207.0L696.8 207.2M696.8 207.2L694.1 207.6M694.1 207.6L691.2 208.0M691.2 208.0L688.6 208.5M688.6 208.5L686.5 209.1M686.5 209.1L684.5 209.9M684.5 209.9L682.6 210.7M682.6 210.7L680.6 211.5M680.6 211.5L678.6 212.3M678.6 212.3L676.5 213.1M676.5 213.1L674.5 213.8M674.5 213.8L672.6 214.5M672.6 214.5L670.8 215.1M670.8 215.1L669.0 215.7M669.0 215.7L667.3 216.1M667.3 216.1L665.6 216.4M665.6 216.4L663.7 216.5M663.7 216.5L661.7 216.3M661.7 216.3L659.9 216.1M659.9 216.1L658.6 216.0M698.6 220.5L696.3 220.5M696.3 220.5L692.9 220.6M692.9 220.6L689.3 220.6M689.3 220.6L686.1 220.5M686.1 220.5L683.5 220.3M683.5 220.3L681.1 220.0M681.1 220.0L678.9 219.8M678.9 219.8L676.5 219.5M676.5 219.5L674.0 219.3M674.0 219.3L671.3 219.2M671.3 219.2L668.8 219.0M668.8 219.0L666.6 218.8M666.6 218.8L664.8 218.5M664.8 218.5L663.3 218.2M663.3 218.2L661.9 217.9M661.9 217.9L660.6 217.5M660.6 217.5L659.3 217.0M659.3 217.0L658.0 216.4M658.0 216.4L656.9 215.9M656.9 215.9L656.1 215.5M668.3 231.7L669.3 232.5M669.3 232.5L670.6 233.6M670.6 233.6L672.2 234.8M672.2 234.8L673.6 236.0M673.6 236.0L674.8 237.1M674.8 237.1L675.9 238.2M675.9 238.2L677.1 239.3M677.1 239.3L678.6 240.5M678.6 240.5L680.4 241.9M680.4 241.9L682.5 243.5M682.5 243.5L684.7 245.0M684.7 245.0L686.6 246.3M686.6 246.3L688.2 247.2M688.2 247.2L689.7 248.0M689.7 248.0L691.1 248.5M691.1 248.5L692.6 249.0M692.6 249.0L694.1 249.4M694.1 249.4L695.7 249.6M695.7 249.6L697.2 249.7M697.2 249.7L698.6 249.8M698.6 249.8L700.0 249.9M700.0 249.9L701.5 249.9M701.5 249.9L702.7 249.8M702.7 249.8L703.6 249.8M477.6 184.0L478.5 184.1M478.5 184.1L479.7 184.2M479.7 184.2L481.2 184.2M481.2 184.2L482.6 184.0M482.6 184.0L484.0 183.4M484.0 183.4L485.4 182.5M485.4 182.5L486.9 181.4M486.9 181.4L488.6 180.5M488.6 180.5L490.5 179.6M490.5 179.6L492.5 178.7M492.5 178.7L494.6 177.9M494.6 177.9L496.6 177.2M496.6 177.2L498.5 176.6M498.5 176.6L500.3 176.2M500.3 176.2L502.0 175.8M502.0 175.8L503.6 175.4M503.6 175.4L505.0 175.1M505.0 175.1L506.2 174.8M506.2 174.8L507.3 174.6M507.3 174.6L508.6 174.4M508.6 174.4L510.0 174.2M510.0 174.2L511.5 174.0M511.5 174.0L513.1 173.8M513.1 173.8L514.6 173.6M514.6 173.6L516.1 173.5M516.1 173.5L517.6 173.3M517.6 173.3L519.1 173.2M519.1 173.2L520.6 173.0M520.6 173.0L522.2 172.7M522.2 172.7L524.0 172.2M524.0 172.2L525.5 171.8M525.5 171.8L526.6 171.5M558.6 154.0L559.6 152.4M559.6 152.4L560.6 150.7M560.6 150.7L561.6 149.0M561.6 149.0L562.6 147.5M562.6 147.5L563.6 146.1M563.6 146.1L564.7 144.7M564.7 144.7L565.8 143.5M565.8 143.5L567.1 142.5M567.1 142.5L568.4 141.9M568.4 141.9L569.7 141.5M569.7 141.5L571.3 141.3M571.3 141.3L573.6 141.0M573.6 141.0L577.0 140.7M577.0 140.7L581.2 140.4M581.2 140.4L585.4 140.1M585.4 140.1L589.1 139.9M623.4 142.3L625.9 143.1M625.9 143.1L628.4 144.0M628.4 144.0L630.9 145.0M630.9 145.0L633.1 146.0M633.1 146.0L635.1 146.9M635.1 146.9L636.9 147.7M636.9 147.7L638.6 148.7M638.6 148.7L640.0 149.7M640.0 149.7L641.1 150.8M641.1 150.8L642.0 152.1M642.0 152.1L642.8 153.4M642.8 153.4L643.6 155.0M643.6 155.0L644.4 156.8M644.4 156.8L645.3 158.7M645.3 158.7L646.1 160.8M646.1 160.8L647.1 163.0M647.1 163.0L648.2 165.4M648.2 165.4L649.5 168.1M649.5 168.1L650.8 170.7M650.8 170.7L652.0 173.0M652.0 173.0L653.2 175.0M653.2 175.0L654.3 176.8M654.3 176.8L655.4 178.5M655.4 178.5L656.6 180.0M656.6 180.0L657.9 181.5M657.9 181.5L659.4 182.9M659.4 182.9L660.7 184.1M660.7 184.1L661.6 185.0M559.8 159.0L561.4 158.2M561.4 158.2L563.0 157.1M563.0 157.1L564.8 156.0M564.8 156.0L566.6 155.0M566.6 155.0L568.4 154.2M568.4 154.2L570.2 153.4M570.2 153.4L572.2 152.7M572.2 152.7L574.5 152.1M574.5 152.1L577.2 151.5M577.2 151.5L580.3 151.0M580.3 151.0L583.5 150.5M583.5 150.5L586.6 150.0M586.6 150.0L589.7 149.6M589.7 149.6L592.9 149.1M592.9 149.1L596.0 148.8M596.0 148.8L598.9 148.4M598.9 148.4L601.5 148.1M601.5 148.1L603.9 147.8M603.9 147.8L606.2 147.5M606.2 147.5L608.6 147.2M608.6 147.2L611.1 146.9M611.1 146.9L613.5 146.5M613.5 146.5L616.0 146.2M616.0 146.2L618.5 146.0M618.5 146.0L621.1 145.9M621.1 145.9L623.7 146.0M623.7 146.0L626.2 146.1M626.2 146.1L628.6 146.5M628.6 146.5L630.8 147.1M630.8 147.1L632.9 147.8M632.9 147.8L634.9 148.8M634.9 148.8L636.6 150.0M636.6 150.0L638.1 151.5M638.1 151.5L639.3 153.2M639.3 153.2L640.4 155.1M640.4 155.1L641.6 157.0M641.6 157.0L642.9 159.0M642.9 159.0L644.2 161.0M644.2 161.0L645.4 163.0M645.4 163.0L646.6 165.0M646.6 165.0L647.7 166.8M647.7 166.8L648.7 168.6M648.7 168.6L649.6 170.3M649.6 170.3L650.6 172.0M650.6 172.0L651.6 173.5M651.6 173.5L652.5 174.9M652.5 174.9L653.5 176.4M653.5 176.4L654.6 178.0M654.6 178.0L656.1 180.0M656.1 180.0L657.9 182.4M657.9 182.4L659.5 184.5M659.5 184.5L660.6 186.0M632.6 147.0L633.5 148.6M633.5 148.6L634.8 150.9M634.8 150.9L636.2 153.5M636.2 153.5L637.6 156.0M637.6 156.0L638.9 158.3M638.9 158.3L640.1 160.6M640.1 160.6L641.4 162.8M641.4 162.8L642.6 165.0M642.6 165.0L643.9 167.1M643.9 167.1L645.1 169.1M645.1 169.1L646.4 171.1M646.4 171.1L647.6 173.0M647.6 173.0L648.9 174.9M648.9 174.9L650.1 176.7M650.1 176.7L651.4 178.4M651.4 178.4L652.6 180.0M652.6 180.0L653.9 181.4M653.9 181.4L655.2 182.7M655.2 182.7L656.4 183.9M656.4 183.9L657.6 185.0M657.6 185.0L658.8 186.2M658.8 186.2L659.9 187.3M659.9 187.3L660.9 188.3M660.9 188.3L661.6 189.0M632.6 206.0L633.6 204.7M633.6 204.7L634.7 203.4M634.7 203.4L635.7 202.3M635.7 202.3L636.6 201.5M636.6 201.5L637.3 200.9M637.3 200.9L637.9 200.5M637.9 200.5L638.5 200.4M638.5 200.4L639.1 200.3M639.1 200.3L639.7 200.4M639.7 200.4L640.3 200.6M640.3 200.6L640.9 201.0M640.9 201.0L641.6 201.5M641.6 201.5L642.5 202.2M642.5 202.2L643.5 203.0M643.5 203.0L644.6 204.0M644.6 204.0L645.6 205.0M645.6 205.0L646.6 206.1M646.6 206.1L647.6 207.2M647.6 207.2L648.6 208.4M648.6 208.4L649.6 209.5M649.6 209.5L650.6 210.6M650.6 210.6L651.7 211.7M651.7 211.7L652.7 212.7M652.7 212.7L653.6 213.5M653.6 213.5L654.4 214.2M654.4 214.2L655.1 214.8M655.1 214.8L655.7 215.2M655.7 215.2L656.1 215.5M633.6 227.0L634.9 227.6M634.9 227.6L636.3 227.9M636.3 227.9L637.7 228.1M637.7 228.1L639.1 228.2M639.1 228.2L640.5 228.2M640.5 228.2L641.9 228.0M641.9 228.0L643.3 227.6M643.3 227.6L644.6 227.0M644.6 227.0L645.9 226.0M645.9 226.0L647.2 224.7M647.2 224.7L648.4 223.3M648.4 223.3L649.6 222.0M649.6 222.0L650.7 220.8M650.7 220.8L651.8 219.6M651.8 219.6L652.7 218.4M652.7 218.4L653.6 217.5M653.6 217.5L654.3 216.7M654.3 216.7L654.8 216.1M654.8 216.1L655.4 215.7M655.4 215.7L656.1 215.5M656.1 215.5L657.0 215.7M657.0 215.7L658.1 216.3M658.1 216.3L659.3 217.0M659.3 217.0L660.6 217.5M660.6 217.5L661.9 217.9M661.9 217.9L663.4 218.3M663.4 218.3L664.9 218.6M664.9 218.6L666.6 218.8M666.6 218.8L668.6 218.9M668.6 218.9L671.0 219.0M671.0 219.0L673.1 219.0M673.1 219.0L674.6 219.0M656.1 215.5L656.7 214.0M656.7 214.0L657.7 211.8M657.7 211.8L658.7 209.3M658.7 209.3L659.6 207.0M659.6 207.0L660.4 205.0M660.4 205.0L661.1 203.0M661.1 203.0L661.9 201.1M661.9 201.1L662.6 199.0M662.6 199.0L663.4 196.8M663.4 196.8L664.2 194.4M664.2 194.4L664.9 192.1M664.9 192.1L665.6 190.0M665.6 190.0L666.2 187.9M666.2 187.9L666.8 185.9M666.8 185.9L667.3 184.2M667.3 184.2L667.6 183.0M658.6 210.0L659.1 208.6M659.1 208.6L659.9 206.5M659.9 206.5L660.8 204.2M660.8 204.2L661.6 202.0M661.6 202.0L662.4 199.8M662.4 199.8L663.3 197.5M663.3 197.5L664.1 195.4M664.1 195.4L664.6 194.0"/>
<path stroke="#334ab0" d="M477.6 180.0L478.5 180.1M478.5 180.1L479.7 180.3M479.7 180.3L481.1 180.3M481.1 180.3L482.6 180.0M482.6 180.0L484.2 179.3M484.2 179.3L486.1 178.2M486.1 178.2L487.9 176.9M487.9 176.9L489.6 175.5M489.6 175.5L491.0 173.9M491.0 173.9L492.3 172.2M492.3 172.2L493.6 170.2M493.6 170.2L495.1 168.0M495.1 168.0L496.9 165.4M496.9 165.4L498.9 162.5M498.9 162.5L500.9 159.5M500.9 159.5L502.9 156.5M502.9 156.5L504.8 153.5M504.8 153.5L506.7 150.5M506.7 150.5L508.5 147.6M508.5 147.6L510.4 145.0M510.4 145.0L512.3 142.9M512.3 142.9L514.3 141.0M477.6 180.0L478.5 180.1M478.5 180.1L479.7 180.2M479.7 180.2L481.1 180.3M481.1 180.3L482.6 180.0M482.6 180.0L484.2 179.4M484.2 179.4L486.0 178.4M486.0 178.4L487.9 177.3M487.9 177.3L489.6 176.0M489.6 176.0L491.1 174.6M491.1 174.6L492.5 172.9M492.5 172.9L494.0 171.1M494.0 171.1L495.6 169.0M495.6 169.0L497.5 166.5M497.5 166.5L499.5 163.7M499.5 163.7L501.6 160.8M501.6 160.8L503.6 158.0M503.6 158.0L505.4 155.2M505.4 155.2L507.2 152.4M507.2 152.4L508.9 149.8M508.9 149.8L510.6 147.5M510.6 147.5L512.2 145.6M512.2 145.6L513.7 143.9M513.7 143.9L515.2 142.6M515.2 142.6L516.6 141.5M516.6 141.5L518.0 140.8M518.0 140.8L519.2 140.4M518.6 166.5L520.5 165.6M520.5 165.6L522.7 164.5M544.2 193.5L545.9 192.5M537.8 201.2L539.4 199.3M539.4 199.3L540.8 197.5M540.8 210.3L542.1 208.1M542.1 208.1L543.3 205.8M563.0 163.4L564.8 164.5M564.8 164.5L566.6 165.5M566.0 188.9L568.6 189.5M562.3 195.7L563.6 198.0M607.8 199.3L609.3 200.3M563.4 198.0L564.6 199.0M602.5 218.5L604.8 218.2M693.4 141.2L691.6 141.5M693.4 151.8L691.6 152.5M693.2 186.6L690.8 186.5M693.4 195.5L691.6 195.5M689.3 194.9L686.6 194.5M589.1 139.9L591.9 139.8"/>
<path stroke="#364fb4" d="M514.3 141.0L516.3 139.4M516.3 139.4L518.1 138.0M519.2 140.4L520.5 140.2M520.5 140.2L521.9 140.2M522.7 164.5L524.8 163.4M546.6 175.0L547.7 176.2M540.8 197.5L542.2 195.8M543.3 205.8L544.5 203.4M561.4 162.3L563.0 163.4M558.2 156.5L559.6 156.0M558.2 198.3L559.6 201.0M693.2 117.5L691.8 120.0M557.5 155.7L558.6 154.0M620.9 141.7L623.4 142.3M558.3 159.5L559.8 159.0M631.6 207.5L632.6 206.0M632.3 226.2L633.6 227.0"/>
<path stroke="#3a55b8" d="M487.6 56.0L489.0 56.6M489.0 56.6L491.0 57.5M491.0 57.5L493.3 58.7M493.3 58.7L495.6 60.0M495.6 60.0L497.8 61.6M497.8 61.6L500.1 63.3M500.1 63.3L502.4 65.3M502.4 65.3L504.6 67.5M504.6 67.5L506.8 69.9M506.8 69.9L509.0 72.6M509.0 72.6L511.2 75.4M511.2 75.4L513.1 78.0M513.1 78.0L514.8 80.5M514.8 80.5L516.3 82.9M516.3 82.9L517.7 85.3M517.7 85.3L519.1 87.5M519.1 87.5L520.4 89.7M520.4 89.7L521.7 91.8M521.7 91.8L522.9 93.7M522.9 93.7L524.1 95.5M524.1 95.5L525.2 97.0M525.2 97.0L526.3 98.2M526.3 98.2L527.4 99.4M527.4 99.4L528.6 100.5M528.6 100.5L529.9 101.7M529.9 101.7L531.3 102.8M531.3 102.8L532.9 103.9M532.9 103.9L534.6 105.0M534.6 105.0L536.6 106.1M536.6 106.1L538.8 107.3M538.8 107.3L541.1 108.4M541.1 108.4L543.6 109.5M543.6 109.5L546.5 110.5M546.5 110.5L549.7 111.5M549.7 111.5L552.6 112.4M552.6 112.4L554.6 113.0M554.6 113.0L555.7 113.2M555.7 113.2L557.2 113.6M557.2 113.6L559.0 113.9M559.0 113.9L560.6 114.0M560.6 114.0L562.1 113.9M562.1 113.9L563.7 113.7M563.7 113.7L565.2 113.4M565.2 113.4L566.6 113.0M566.6 113.0L567.9 112.5M567.9 112.5L569.0 111.9M569.0 111.9L570.2 111.2M570.2 111.2L571.6 110.5M571.6 110.5L573.2 109.7M573.2 109.7L575.0 108.9M575.0 108.9L576.9 108.1M576.9 108.1L578.6 107.5M578.6 107.5L580.2 107.0M580.2 107.0L581.7 106.7M581.7 106.7L583.2 106.5M583.2 106.5L584.6 106.5M584.6 106.5L586.0 106.7M586.0 106.7L587.4 107.2M587.4 107.2L588.7 107.8M588.7 107.8L590.0 108.5M590.0 108.5L591.2 109.4M565.1 109.6L566.6 109.0M566.6 109.0L568.1 108.4M568.1 108.4L569.6 107.8M569.6 107.8L571.1 107.1M571.1 107.1L572.6 106.5M572.6 106.5L574.1 105.9M574.1 105.9L575.6 105.2M575.6 105.2L577.1 104.6M577.1 104.6L578.6 104.0M578.6 104.0L580.1 103.5M580.1 103.5L581.7 103.1M581.7 103.1L583.2 102.7M583.2 102.7L584.6 102.5M614.6 82.0L616.0 81.6M616.0 81.6L617.6 81.2M617.6 81.2L619.4 80.8M619.4 80.8L621.3 80.5M621.3 80.5L623.5 80.3M623.5 80.3L625.9 80.2M625.9 80.2L628.3 80.2M628.3 80.2L630.5 80.3M630.5 80.3L632.5 80.8M632.5 80.8L634.4 81.5M634.4 81.5L636.1 82.1M636.1 82.1L637.6 82.0M637.6 82.0L638.8 81.1M638.8 81.1L639.8 79.6M639.8 79.6L640.7 77.8M640.7 77.8L641.6 76.0M641.6 76.0L642.6 74.2M642.6 74.2L643.6 72.3M643.6 72.3L644.6 70.4M644.6 70.4L645.6 68.5M645.6 68.5L646.6 66.6M646.6 66.6L647.5 64.7M647.5 64.7L648.5 62.8M648.5 62.8L649.6 61.0M649.6 61.0L650.8 59.3M650.8 59.3L652.1 57.7M652.1 57.7L653.4 56.2M653.4 56.2L654.6 55.0M654.6 55.0L655.8 54.1M655.8 54.1L656.9 53.4M656.9 53.4L657.9 52.9M657.9 52.9L658.6 52.5M518.1 138.0L519.8 136.7M521.9 140.2L523.4 140.3M523.4 140.3L525.0 140.5M524.8 163.4L526.6 162.4M545.9 192.5L547.3 191.3M542.2 195.8L543.6 194.0M544.5 203.4L545.6 201.0M559.8 161.5L561.4 162.3M563.4 188.3L566.0 188.9M561.0 193.7L562.3 195.7M609.3 200.3L610.5 201.4M562.3 196.9L563.4 198.0M604.8 218.2L606.7 218.0M695.5 141.0L693.4 141.2M695.5 151.2L693.4 151.8M695.5 186.8L693.2 186.6M695.4 195.7L693.4 195.5M692.3 195.2L689.3 194.9M627.2 101.0L627.4 101.8M627.4 101.8L627.8 103.0M627.8 103.0L628.2 104.5M628.2 104.5L628.6 106.0M628.6 106.0L628.9 107.6M628.9 107.6L629.2 109.4M629.2 109.4L629.7 111.3M629.7 111.3L630.3 113.3M630.3 113.3L631.2 115.5M631.2 115.5L632.3 117.8M632.3 117.8L633.6 120.2M633.6 120.2L634.9 122.5M634.9 122.5L636.4 124.8M636.4 124.8L637.9 127.1M637.9 127.1L639.5 129.4M639.5 129.4L641.0 131.7M641.0 131.7L642.3 133.9M642.3 133.9L643.5 136.1M643.5 136.1L644.6 138.4M644.6 138.4L645.6 140.9M645.6 140.9L646.4 143.7M646.4 143.7L647.1 146.6M647.1 146.6L647.8 149.8M647.8 149.8L648.6 153.1M648.6 153.1L649.6 156.8M649.6 156.8L650.8 160.7M650.8 160.7L652.0 164.7M652.0 164.7L653.2 168.4M653.2 168.4L654.4 171.7M654.4 171.7L655.6 174.9M655.6 174.9L656.8 177.8M656.8 177.8L657.8 180.6M657.8 180.6L658.8 183.3M658.8 183.3L659.6 186.0M659.6 186.0L660.4 188.2M660.4 188.2L660.9 189.8M591.9 139.8L594.3 139.8M595.6 197.0L596.6 198.0"/>
<path stroke="#3b59b9" d="M591.2 109.4L592.4 110.4M592.4 110.4L593.5 111.5M562.1 110.6L563.6 110.1M563.6 110.1L565.1 109.6M584.6 102.5L585.9 102.4M613.3 82.4L614.6 82.0M519.8 136.7L521.4 135.6M525.0 140.5L526.5 141.0M526.6 162.4L527.9 161.6M547.3 191.3L548.4 190.2M547.7 176.2L548.7 177.5M543.6 194.0L545.2 192.1M545.6 201.0L546.7 198.6M561.0 187.7L563.4 188.3M559.8 191.8L561.0 193.7M556.7 157.8L558.2 156.5M610.5 201.4L611.5 202.6M561.3 195.9L562.3 196.9M556.7 195.1L558.2 198.3M606.7 218.0L608.5 217.8M697.3 141.0L695.5 141.0M697.3 150.8L695.5 151.2M697.3 187.0L695.5 186.8M556.4 157.4L557.5 155.7M618.4 141.2L620.9 141.7M556.8 159.8L558.3 159.5M630.6 209.2L631.6 207.5M631.0 225.2L632.3 226.2"/>
<path stroke="#3c5eba" d="M593.5 111.5L594.6 112.5M594.6 112.5L595.6 113.5M560.6 111.0L562.1 110.6M521.4 135.6L522.9 134.8M526.5 141.0L528.1 141.5M558.3 160.9L559.8 161.5M694.7 115.1L693.2 117.5M596.6 198.0L598.1 199.4M598.1 199.4L599.8 201.1"/>
<path stroke="#3e62bc" d="M595.6 113.5L596.5 114.6M596.5 114.6L597.4 115.6M559.0 111.3L560.6 111.0M585.9 102.4L587.2 102.4M612.3 82.7L613.3 82.4M522.9 134.8L524.4 134.1M528.1 141.5L529.7 142.2M527.9 161.6L528.9 161.0M548.4 190.2L549.6 189.0M545.2 192.1L546.9 190.0M546.7 198.6L547.9 196.2M559.0 187.0L561.0 187.7M558.6 190.0L559.8 191.8M611.5 202.6L612.6 204.0M560.3 194.8L561.3 195.9M608.5 217.8L610.3 217.7M698.6 141.0L697.3 141.0M698.6 150.5L697.3 150.8M698.6 187.2L697.3 187.0M697.3 195.9L695.4 195.7M695.1 195.4L692.3 195.2M594.3 139.8L596.5 139.8"/>
<path stroke="#3f66bd" d="M597.4 115.6L598.4 116.5M598.4 116.5L599.4 117.4M670.6 58.5L671.3 59.5M671.3 59.5L672.4 61.0M672.4 61.0L673.5 62.8M673.5 62.8L674.6 64.5M674.6 64.5L675.6 66.3M548.7 177.5L549.7 178.9M556.8 160.5L558.3 160.9M555.5 159.1L556.7 157.8M559.2 193.5L560.3 194.8M555.5 192.1L556.7 195.1M555.3 158.9L556.4 157.4M615.9 140.8L618.4 141.2M555.5 159.9L556.8 159.8M599.8 201.1L601.6 203.0M629.6 210.9L630.6 209.2M629.7 224.1L631.0 225.2"/>
<path stroke="#406bbf" d="M599.4 117.4L600.5 118.2M600.5 118.2L601.5 118.9M557.2 111.6L559.0 111.3M587.2 102.4L588.4 102.5M611.3 83.1L612.3 82.7M675.6 66.3L676.6 68.1M676.6 68.1L677.6 70.1M528.9 161.0L529.7 160.4M546.9 190.0L548.5 188.1M547.9 196.2L549.0 193.8M610.3 217.7L612.2 217.7M696.1 113.0L694.7 115.1M698.6 196.0L697.3 195.9M697.1 195.6L695.1 195.4M596.5 139.8L598.6 139.8M601.6 203.0L603.6 205.3"/>
<path stroke="#4270c2" d="M601.5 118.9L602.6 119.5M602.6 119.5L603.6 119.9M677.6 70.1L678.6 72.0M678.6 72.0L679.6 74.0M679.6 74.0L680.6 76.0M680.6 76.0L681.6 78.0M681.6 78.0L682.6 80.0M682.6 80.0L683.6 82.0M524.4 134.1L526.0 133.7M529.7 142.2L531.2 143.1M549.6 189.0L550.9 187.7M557.4 186.0L559.0 187.0M557.4 188.0L558.6 190.0M612.6 204.0L613.8 205.7M557.3 190.9L558.2 192.1M558.2 192.1L559.2 193.5"/>
<path stroke="#4375c4" d="M603.6 119.9L604.7 120.2M604.7 120.2L605.7 120.4M555.7 111.8L557.2 111.6M588.4 102.5L589.6 102.5M610.3 83.5L611.3 83.1M683.6 82.0L684.6 84.0M684.6 84.0L685.6 86.0M529.7 160.4L530.6 159.8M549.7 178.9L550.6 180.0M548.5 188.1L550.0 186.5M549.0 193.8L550.1 191.5M554.6 160.0L555.5 159.1M554.6 190.0L555.5 192.1M612.2 217.7L614.0 217.8M554.6 160.0L555.3 158.9M598.6 139.8L600.6 139.8M613.6 140.5L615.9 140.8M554.6 160.0L555.5 159.9M603.6 205.3L605.9 208.1M628.6 212.5L629.6 210.9M628.6 223.0L629.7 224.1"/>
<path stroke="#447ac6" d="M605.7 120.4L606.8 120.5M606.8 120.5L607.9 120.4M685.6 86.0L686.6 88.0M686.6 88.0L687.6 90.1M687.6 90.1L688.6 92.3M688.6 92.3L689.6 94.5M689.6 94.5L690.6 96.5M690.6 96.5L691.5 98.3M691.5 98.3L692.4 99.9M692.4 99.9L693.2 101.5M693.2 101.5L694.1 103.0M694.1 103.0L694.9 104.6M694.9 104.6L695.8 106.2M695.8 106.2L696.6 107.5M696.6 107.5L697.6 108.5M697.6 108.5L698.9 108.9M698.9 108.9L700.3 108.8M700.3 108.8L701.7 108.6M701.7 108.6L702.6 108.5M531.2 143.1L532.8 144.1M550.9 187.7L552.2 186.2M555.5 160.2L556.8 160.5M556.2 184.8L557.4 186.0M556.3 186.0L557.4 188.0M613.8 205.7L614.9 207.7M556.6 190.0L557.3 190.9M697.1 111.5L696.1 113.0M600.6 139.8L602.5 139.8M611.6 140.3L613.6 140.5"/>
<path stroke="#467fc8" d="M607.9 120.4L609.0 120.2M609.0 120.2L610.0 119.9M554.6 112.0L555.7 111.8M530.6 159.8L531.5 159.1M614.0 217.8L615.8 217.9M605.9 208.1L608.2 210.7"/>
<path stroke="#4884cb" d="M553.7 113.3L554.6 112.5M610.0 119.9L611.1 119.5M611.1 119.5L612.2 119.0M589.6 102.5L590.7 102.4M554.6 112.0L555.5 112.9M609.3 84.0L610.3 83.5M526.0 133.7L527.5 133.5M550.6 180.0L551.6 181.0M550.0 186.5L551.4 185.3M550.1 191.5L551.3 189.1M554.6 160.0L555.5 160.2M602.5 139.8L604.4 139.8M608.0 140.0L609.8 140.1M609.8 140.1L611.6 140.3M627.6 214.1L628.6 212.5M627.5 221.7L628.6 223.0"/>
<path stroke="#4989ce" d="M551.0 115.7L552.4 114.4M552.4 114.4L553.7 113.3M612.2 119.0L613.2 118.4M613.2 118.4L614.2 117.7M555.5 112.9L556.8 114.3M556.8 114.3L558.2 115.7M532.8 144.1L534.2 145.1M615.8 217.9L617.6 218.0M604.4 139.8L606.2 139.9M608.2 210.7L610.3 212.8"/>
<path stroke="#4b8ed0" d="M548.3 118.3L549.6 117.0M549.6 117.0L551.0 115.7M554.6 112.0L555.3 110.8M614.2 117.7L615.2 117.0M615.2 117.0L616.1 116.2M558.2 115.7L559.6 117.0M559.6 117.0L560.9 118.0M608.4 84.4L609.3 84.0M531.5 159.1L532.3 158.4M552.2 186.2L553.3 184.9M551.6 181.0L552.6 181.8M551.4 185.3L552.7 184.3M551.3 189.1L552.6 186.7M555.3 183.8L556.2 184.8M555.3 184.2L556.3 186.0M614.9 207.7L616.2 209.7M606.2 139.9L608.0 140.0M610.3 212.8L612.2 214.1"/>
<path stroke="#4e94d2" d="M616.1 116.2L617.0 115.3M617.0 115.3L617.8 114.4M560.9 118.0L562.2 118.9M562.2 118.9L563.4 119.8"/>
<path stroke="#509ad5" d="M554.1 111.3L554.6 112.0M545.7 120.9L547.0 119.6M547.0 119.6L548.3 118.3M555.3 110.8L556.4 109.2M556.4 109.2L557.5 107.3M617.8 114.4L618.6 113.5M618.6 113.5L619.4 112.7M590.7 102.4L591.7 102.3M563.4 119.8L564.6 120.5M527.5 133.5L529.1 133.4M534.2 145.1L535.5 146.3M532.3 158.4L533.1 157.7M553.3 184.9L554.1 184.0M554.6 183.0L555.3 183.8M554.6 183.0L555.3 184.2M616.2 209.7L617.6 211.6M617.6 218.0L619.6 218.0M612.2 214.1L614.0 214.9M614.0 214.9L615.8 215.4M626.5 215.7L627.6 214.1M626.4 220.2L627.5 221.7"/>
<path stroke="#52a0d8" d="M619.4 112.7L620.3 111.9M620.3 111.9L621.1 111.0M564.6 120.5L565.7 121.1"/>
<path stroke="#55a6da" d="M552.5 109.1L553.3 110.2M553.3 110.2L554.1 111.3M544.6 122.0L545.7 120.9M557.5 107.3L558.6 105.5M558.6 105.5L559.6 103.9M621.1 111.0L621.9 110.2M621.9 110.2L622.7 109.3M607.5 85.0L608.4 84.4M535.5 146.3L536.8 147.6M552.6 181.8L553.5 182.5M552.7 184.3L553.8 183.5M552.6 186.7L553.8 184.5M619.6 218.0L621.7 218.0M615.8 215.4L617.6 216.0M617.6 216.0L619.6 216.6"/>
<path stroke="#5aacdc" d="M543.7 123.0L544.6 122.0M622.7 109.3L623.5 108.3M623.5 108.3L624.3 107.4M565.7 121.1L566.8 121.7M533.1 157.7L534.1 157.0M617.6 211.6L619.4 213.4"/>
<path stroke="#60b2de" d="M550.8 107.1L551.6 108.0M551.6 108.0L552.5 109.1M559.6 103.9L560.6 102.2M560.6 102.2L561.6 100.6M624.3 107.4L625.1 106.5M625.1 106.5L625.9 105.6M591.7 102.3L592.7 102.1M606.6 85.5L607.5 85.0M529.1 133.4L530.5 133.5M553.5 182.5L554.1 183.0M553.8 183.5L554.6 183.0M553.8 184.5L554.6 183.0M619.6 216.6L621.7 217.2M621.7 217.2L623.6 217.7M625.6 217.0L626.5 215.7M625.5 218.9L626.4 220.2"/>
<path stroke="#66b7e1" d="M542.9 123.8L543.7 123.0M625.9 105.6L626.8 104.7M626.8 104.7L627.5 103.9M566.8 121.7L567.8 122.1M534.1 157.0L535.3 156.3M619.4 213.4L621.6 215.3"/>
<path stroke="#6bbde3" d="M549.0 105.4L549.9 106.2M549.9 106.2L550.8 107.1M561.6 100.6L562.6 99.0M627.5 103.9L628.0 103.4M605.7 86.1L606.6 85.5M536.8 147.6L537.9 148.8M621.7 218.0L623.6 218.0M623.6 217.7L624.9 218.0"/>
<path stroke="#72c2e4" d="M542.2 124.5L542.9 123.8M562.6 99.0L563.6 97.3M567.8 122.1L568.6 122.5M621.6 215.3L623.5 216.9"/>
<path stroke="#7ac8e4" d="M547.2 103.6L548.1 104.5M548.1 104.5L549.0 105.4M592.7 102.1L593.6 102.0M603.9 87.3L604.8 86.7M604.8 86.7L605.7 86.1M530.5 133.5L531.8 133.6M537.9 148.8L539.1 150.0M535.3 156.3L536.6 155.5M623.6 218.0L624.9 218.0M624.9 218.0L625.6 217.0M624.9 218.0L625.5 218.9"/>
<path stroke="#81cee5" d="M541.6 125.0L542.2 124.5M563.6 97.3L564.7 95.7M568.6 122.5L569.3 122.7M623.5 216.9L624.9 218.0"/>
<path stroke="#88d3e6" d="M545.5 101.9L546.4 102.8M546.4 102.8L547.2 103.6M602.9 88.0L603.9 87.3M536.6 155.5L537.9 154.8"/>
<path stroke="#8ad6de" d="M564.7 95.7L565.7 94.0M601.8 88.9L602.9 88.0M539.1 150.0L540.2 151.0"/>
<path stroke="#8cdad5" d="M544.6 101.0L545.5 101.9M541.0 125.2L541.6 125.0M593.6 102.0L594.4 101.9M569.3 122.7L569.9 122.9M531.8 133.6L533.1 133.9"/>
<path stroke="#8eddcc" d="M543.6 100.1L544.6 101.0M565.7 94.0L566.6 92.5M540.2 151.0L541.3 151.8M537.9 154.8L539.2 154.3"/>
<path stroke="#90e0c4" d="M594.4 101.9L595.2 101.8M569.9 122.9L570.3 122.9M600.6 89.8L601.8 88.9M539.2 154.3L540.3 154.0"/>
<path stroke="#8fda98" d="M542.6 99.3L543.6 100.1M566.6 92.5L567.4 91.1M541.3 151.8L542.4 152.7"/>
<path stroke="#8ed36c" d="M540.6 125.1L541.0 125.2M599.5 90.7L600.6 89.8M533.1 133.9L534.3 134.2M540.3 154.0L541.4 153.8M541.4 153.8L542.5 153.8"/>
<path stroke="#8dcc40" d="M541.6 98.4L542.6 99.3M567.4 91.1L568.1 89.9M570.3 122.9L570.6 123.0M542.4 152.7L543.6 153.5"/>
<path stroke="#8cc614" d="M595.2 101.8L595.9 101.7M570.9 121.4L571.1 121.0M543.6 153.5L544.8 154.4M542.5 153.8L543.6 154.0M543.6 154.0L544.8 154.4"/>
<path stroke="#96ca19" d="M540.6 97.5L541.6 98.4M568.1 89.9L568.8 88.7M570.4 122.9L570.7 122.1M570.7 122.1L570.9 121.4M598.6 91.4L599.5 90.7"/>
<path stroke="#a0ce1e" d="M540.1 124.9L540.6 125.1M595.9 101.7L596.7 101.5M569.4 125.4L570.0 124.0M570.0 124.0L570.4 122.9M534.3 134.2L535.4 134.7M544.8 154.4L546.0 155.3M546.0 155.3L547.3 156.2M544.8 154.4L546.0 155.0M546.0 155.0L547.3 155.7"/>
<path stroke="#aad122" d="M539.6 96.5L540.6 97.5M568.8 88.7L569.6 87.5M567.9 129.1L568.7 127.2M568.7 127.2L569.4 125.4M598.0 91.8L598.6 91.4"/>
<path stroke="#b4d527" d="M566.4 132.9L567.1 131.0M567.1 131.0L567.9 129.1M547.3 156.2L548.6 157.0M548.6 157.0L550.2 157.9M547.3 155.7L548.6 156.5M548.6 156.5L550.2 157.4"/>
<path stroke="#bbd82c" d="M538.6 95.5L539.6 96.5M569.6 87.5L570.4 86.2M596.7 101.5L597.6 101.3M564.9 136.9L565.6 134.9M565.6 134.9L566.4 132.9M550.2 157.9L551.9 158.7M551.9 158.7L553.5 159.5M550.2 157.4L551.9 158.4M551.9 158.4L553.5 159.3"/>
<path stroke="#c2dc32" d="M539.6 124.5L540.1 124.9M597.6 101.3L598.6 101.0M556.8 155.7L557.6 154.0M557.6 154.0L558.3 152.5M558.3 152.5L559.1 150.9M559.1 150.9L559.8 149.3M559.8 149.3L560.6 147.5M560.6 147.5L561.5 145.5M561.5 145.5L562.4 143.3M562.4 143.3L563.2 141.1M563.2 141.1L564.1 139.0M564.1 139.0L564.9 136.9M597.5 91.9L598.0 91.8M535.4 134.7L536.4 135.3M553.5 159.5L554.6 160.0M553.5 159.3L554.6 160.0"/>
<path stroke="#c8df37" d="M537.6 94.5L538.6 95.5M570.4 86.2L571.3 84.9M555.1 158.9L555.9 157.4M555.9 157.4L556.8 155.7"/>
<path stroke="#cfe23c" d="M598.6 101.0L599.6 100.7M554.6 160.0L555.1 158.9M570.6 110.0L570.9 109.3M597.1 91.9L597.5 91.9"/>
<path stroke="#d8e23e" d="M536.6 93.5L537.6 94.5M571.3 84.9L572.2 83.6M599.6 100.7L600.6 100.5"/>
<path stroke="#e0e240" d="M539.1 124.0L539.6 124.5M600.6 100.5L601.6 100.3M570.9 109.3L571.4 108.3M571.4 108.3L572.0 107.1M554.1 159.6L554.6 160.0"/>
<path stroke="#e8e242" d="M535.6 92.5L536.6 93.5M572.2 83.6L573.1 82.5M601.6 100.3L602.6 100.2M602.6 100.2L603.7 100.1M596.6 92.0L597.1 91.9"/>
<path stroke="#f1e244" d="M603.7 100.1L605.1 100.0M605.1 100.0L606.9 100.0M606.9 100.0L609.1 100.1M609.1 100.1L611.4 100.2M611.4 100.2L613.6 100.3M613.6 100.3L615.8 100.4M615.8 100.4L618.0 100.6M618.0 100.6L620.1 100.8M620.1 100.8L621.9 100.9M621.9 100.9L623.3 101.0M623.3 101.0L624.4 101.2M624.4 101.2L625.3 101.3M625.3 101.3L625.9 101.4M572.0 107.1L572.6 106.0M536.4 135.3L537.3 136.0"/>
<path stroke="#f3db42" d="M534.6 91.5L535.6 92.5M573.1 82.5L573.9 81.5M572.6 106.0L573.2 104.9"/>
<path stroke="#f4d440" d="M538.6 123.3L539.1 124.0M573.9 81.5L574.7 80.6M573.2 104.9L573.8 103.8M596.0 92.1L596.6 92.0M697.5 75.2L698.6 75.3M698.6 75.3L699.9 75.3M699.9 75.3L701.4 75.3M701.4 75.3L702.7 75.3M702.7 75.3L703.6 75.3M553.4 159.0L554.1 159.6M553.1 182.6L553.6 182.8M553.6 182.8L554.1 183.0M554.1 183.0L554.6 183.2M554.6 183.2L555.1 183.4"/>
<path stroke="#f6ce3e" d="M533.6 90.5L534.6 91.5M695.5 75.0L696.5 75.1M696.5 75.1L697.5 75.2"/>
<path stroke="#f8c73c" d="M574.7 80.6L575.5 79.8M573.8 103.8L574.4 102.6M693.7 74.6L694.6 74.8M694.6 74.8L695.5 75.0M537.3 136.0L538.2 136.9"/>
<path stroke="#f8be38" d="M532.6 89.5L533.6 90.5M575.5 79.8L576.6 79.0M574.4 102.6L575.1 101.5"/>
<path stroke="#f8b634" d="M538.0 122.4L538.6 123.3M595.3 92.2L596.0 92.1M692.1 74.1L692.9 74.4M692.9 74.4L693.7 74.6M552.5 158.1L553.4 159.0"/>
<path stroke="#f7ae30" d="M531.6 88.5L532.6 89.5M576.6 79.0L577.9 78.2M575.1 101.5L575.9 100.3"/>
<path stroke="#f7a52c" d="M577.9 78.2L579.4 77.5M575.9 100.3L576.7 99.2M690.4 73.5L691.3 73.8M691.3 73.8L692.1 74.1"/>
<path stroke="#f6a02a" d="M530.6 87.5L531.6 88.5"/>
<path stroke="#f69a27" d="M537.4 121.5L538.0 122.4M579.4 77.5L581.0 76.9M576.7 99.2L577.6 98.0M594.5 92.2L595.3 92.2M688.5 72.7L689.5 73.1M689.5 73.1L690.4 73.5M538.2 136.9L539.1 137.8M551.6 157.0L552.5 158.1"/>
<path stroke="#f59424" d="M529.6 86.5L530.6 87.5M581.0 76.9L582.6 76.3M577.6 98.0L578.6 97.0"/>
<path stroke="#f48f22" d="M582.6 76.3L584.1 75.8M584.1 75.8L585.6 75.2M585.6 75.2L587.1 74.8M587.1 74.8L588.6 74.5M588.6 74.5L590.1 74.3M590.1 74.3L591.6 74.2M591.6 74.2L593.1 74.2M593.1 74.2L594.6 74.2M594.6 74.2L596.2 74.3M596.2 74.3L597.9 74.4M597.9 74.4L599.6 74.6M599.6 74.6L601.1 74.8M601.1 74.8L602.4 75.1M578.6 97.0L579.7 96.1M686.7 71.6L687.6 72.2M687.6 72.2L688.5 72.7"/>
<path stroke="#f38722" d="M528.6 85.5L529.6 86.5M602.4 75.1L603.5 75.5M603.5 75.5L604.5 76.0M539.1 137.8L540.0 138.8M550.5 155.4L551.6 157.0"/>
<path stroke="#f28022" d="M536.7 120.4L537.4 121.5M604.5 76.0L605.6 76.5M605.6 76.5L606.8 77.1M579.7 96.1L581.0 95.2M581.0 95.2L582.3 94.4M593.6 92.3L594.5 92.2M684.9 70.2L685.8 70.9M685.8 70.9L686.7 71.6M540.0 138.8L540.8 139.9"/>
<path stroke="#f07821" d="M527.6 84.4L528.6 85.5M606.8 77.1L608.0 77.8M608.0 77.8L609.2 78.6M549.3 153.5L550.5 155.4"/>
<path stroke="#ef7021" d="M526.7 83.3L527.6 84.4M609.2 78.6L610.3 79.4M610.3 79.4L611.3 80.2M611.3 80.2L612.3 81.1M612.3 81.1L613.2 82.0M613.2 82.0L614.1 83.0M614.1 83.0L615.0 84.1M582.3 94.4L583.6 93.8M583.6 93.8L584.9 93.4M592.5 92.4L593.6 92.3M684.0 69.5L684.9 70.2M540.8 139.9L541.7 141.1"/>
<path stroke="#ed6820" d="M536.0 119.2L536.7 120.4M615.0 84.1L615.9 85.3M615.9 85.3L616.8 86.6M584.9 93.4L586.1 93.1M586.1 93.1L587.4 92.9M589.9 92.5L591.2 92.5M591.2 92.5L592.5 92.4M683.1 68.8L684.0 69.5M541.7 141.1L542.6 142.5M548.1 151.4L549.3 153.5"/>
<path stroke="#ec6120" d="M525.7 82.2L526.7 83.3M616.8 86.6L617.6 87.7M617.6 87.7L618.4 88.7M587.4 92.9L588.6 92.7M588.6 92.7L589.9 92.5M682.3 68.1L683.1 68.8M542.6 142.5L543.6 144.1"/>
<path stroke="#ea5a20" d="M524.6 81.0L525.7 82.2M618.4 88.7L619.2 89.7M619.2 89.7L619.9 90.6M543.6 144.1L544.7 145.8M544.7 145.8L545.8 147.7M546.9 149.5L548.1 151.4"/>
<path stroke="#e8521f" d="M523.5 79.7L524.6 81.0M619.9 90.6L620.6 91.5M620.6 91.5L621.2 92.4M621.2 92.4L621.8 93.2M621.8 93.2L622.4 94.1M622.4 94.1L623.1 95.0M623.1 95.0L624.0 96.1M681.5 67.3L682.3 68.1M697.5 93.0L698.6 93.2M698.6 93.2L699.9 93.3M699.9 93.3L701.4 93.3M701.4 93.3L702.7 93.2M702.7 93.2L703.6 93.2M545.8 147.7L546.9 149.5"/>
<path stroke="#e64d1f" d="M535.2 117.9L536.0 119.2M624.0 96.1L625.1 97.2M625.1 97.2L626.1 98.3M680.6 66.5L681.5 67.3"/>
<path stroke="#e4481f" d="M521.0 77.0L522.3 78.4M522.3 78.4L523.5 79.7M626.1 98.3L626.8 99.0M695.5 92.5L696.5 92.8M696.5 92.8L697.5 93.0"/>
<path stroke="#e2421f" d="M626.8 99.0L627.5 98.3M679.6 65.6L680.6 66.5"/>
<path stroke="#e03d1f" d="M518.0 73.8L519.6 75.5M519.6 75.5L521.0 77.0M534.4 116.5L535.2 117.9M627.5 98.3L628.4 97.4M678.6 64.6L679.6 65.6M693.7 91.4L694.6 92.0M694.6 92.0L695.5 92.5"/>
<path stroke="#dd391f" d="M692.1 90.0L692.9 90.8M692.9 90.8L693.7 91.4"/>
<path stroke="#da341e" d="M514.3 70.2L516.2 72.0M516.2 72.0L518.0 73.8M533.6 115.1L534.4 116.5M628.4 97.4L629.5 96.2M677.6 63.5L678.6 64.6M690.4 87.8L691.3 89.0M691.3 89.0L692.1 90.0"/>
<path stroke="#d8301e" d="M532.0 112.0L532.8 113.5M532.8 113.5L533.6 115.1M629.5 96.2L630.6 95.0M676.6 62.5L677.6 63.5M688.5 85.0L689.5 86.5M689.5 86.5L690.4 87.8"/>
<path stroke="#d52c1e" d="M476.6 53.0L477.5 53.0M477.5 53.0L478.7 53.0M478.7 53.0L480.1 53.0M480.1 53.0L481.6 53.0M481.6 53.0L483.2 53.0M483.2 53.0L485.0 53.0M485.0 53.0L486.9 53.1M486.9 53.1L488.6 53.3M488.6 53.3L490.2 53.6M490.2 53.6L491.7 53.9M491.7 53.9L493.1 54.4M493.1 54.4L494.6 55.0M494.6 55.0L496.1 55.7M496.1 55.7L497.6 56.6M497.6 56.6L499.1 57.5M499.1 57.5L500.6 58.5M500.6 58.5L502.1 59.5M502.1 59.5L503.6 60.6M503.6 60.6L505.1 61.8M505.1 61.8L506.6 63.0M506.6 63.0L508.1 64.3M508.1 64.3L509.5 65.6M509.5 65.6L511.0 67.0M511.0 67.0L512.6 68.5M512.6 68.5L514.3 70.2M476.6 54.0L477.5 54.0M477.5 54.0L478.7 53.9M478.7 53.9L480.1 53.9M480.1 53.9L481.6 54.0M481.6 54.0L483.2 54.1M483.2 54.1L484.9 54.3M484.9 54.3L486.7 54.6M486.7 54.6L488.6 55.0M488.6 55.0L490.6 55.7M490.6 55.7L492.6 56.5M492.6 56.5L494.6 57.4M494.6 57.4L496.6 58.5M496.6 58.5L498.5 59.7M498.5 59.7L500.3 61.1M500.3 61.1L502.0 62.5M502.0 62.5L503.6 64.0M503.6 64.0L505.0 65.5M505.0 65.5L506.3 67.0M506.3 67.0L507.4 68.5M507.4 68.5L508.6 70.0M508.6 70.0L509.8 71.4M509.8 71.4L510.9 72.8M510.9 72.8L512.0 74.3M512.0 74.3L513.1 75.8M513.1 75.8L514.1 77.5M514.1 77.5L515.0 79.3M515.0 79.3L516.0 81.1M516.0 81.1L516.9 82.9M516.9 82.9L517.9 84.6M517.9 84.6L518.9 86.3M518.9 86.3L519.9 88.1M519.9 88.1L520.9 90.0M520.9 90.0L521.9 92.2M521.9 92.2L522.9 94.7M522.9 94.7L523.9 97.1M523.9 97.1L524.9 99.2M524.9 99.2L525.8 100.9M525.8 100.9L526.7 102.3M526.7 102.3L527.5 103.7M527.5 103.7L528.3 105.0M528.3 105.0L529.1 106.4M529.1 106.4L529.8 107.7M529.8 107.7L530.5 109.1M530.5 109.1L531.2 110.5M531.2 110.5L532.0 112.0M630.6 95.0L631.6 93.7M631.6 93.7L632.5 92.2M632.5 92.2L633.5 90.7M633.5 90.7L634.6 89.0M634.6 89.0L635.8 87.2M635.8 87.2L637.0 85.2M637.0 85.2L638.3 83.1M638.3 83.1L639.6 81.0M639.6 81.0L640.9 78.8M640.9 78.8L642.3 76.5M642.3 76.5L643.6 74.2M643.6 74.2L644.9 72.0M644.9 72.0L646.0 69.8M646.0 69.8L647.1 67.6M647.1 67.6L648.1 65.4M648.1 65.4L649.1 63.5M649.1 63.5L650.0 61.8M650.0 61.8L650.9 60.2M650.9 60.2L651.8 58.7M651.8 58.7L652.6 57.5M652.6 57.5L653.4 56.5M653.4 56.5L654.1 55.6M654.1 55.6L654.9 54.9M654.9 54.9L655.6 54.3M655.6 54.3L656.4 53.9M656.4 53.9L657.1 53.6M657.1 53.6L657.9 53.4M657.9 53.4L658.6 53.3M658.6 53.3L659.2 53.2M659.2 53.2L659.8 53.1M659.8 53.1L660.4 53.0M660.4 53.0L661.0 53.0M661.0 53.0L661.6 53.0M661.6 53.0L662.3 52.9M662.3 52.9L662.9 52.9M662.9 52.9L663.6 53.0M663.6 53.0L664.3 53.1M664.3 53.1L665.1 53.3M665.1 53.3L665.8 53.5M665.8 53.5L666.6 53.8M666.6 53.8L667.4 54.1M667.4 54.1L668.1 54.5M668.1 54.5L668.9 55.0M668.9 55.0L669.6 55.5M669.6 55.5L670.3 56.1M670.3 56.1L671.0 56.7M671.0 56.7L671.8 57.4M671.8 57.4L672.6 58.2M672.6 58.2L673.5 59.2M673.5 59.2L674.5 60.3M674.5 60.3L675.6 61.4M675.6 61.4L676.6 62.5M672.6 58.0L673.3 58.9M673.3 58.9L674.4 60.1M674.4 60.1L675.5 61.5M675.5 61.5L676.6 63.0M676.6 63.0L677.6 64.5M677.6 64.5L678.6 66.1M678.6 66.1L679.6 67.8M679.6 67.8L680.6 69.5M680.6 69.5L681.5 71.2M681.5 71.2L682.3 73.0M682.3 73.0L683.1 74.7M683.1 74.7L684.0 76.5M684.0 76.5L684.9 78.3M684.9 78.3L685.8 80.1M685.8 80.1L686.7 81.9M686.7 81.9L687.6 83.5M687.6 83.5L688.5 85.0"/></g>
<text transform="translate(18.8,145) rotate(-90)" text-anchor="middle" font-size="27" font-family='"Liberation Serif", serif'>ω/(<tspan font-style="italic">SJ</tspan><tspan font-size="17" dy="4">1</tspan><tspan dy="-4">)</tspan></text>
<text transform="translate(429.3,145) rotate(-90)" text-anchor="middle" font-size="27" font-family='"Liberation Serif", serif'>ω/(<tspan font-style="italic">SJ</tspan><tspan font-size="17" dy="4">1</tspan><tspan dy="-4">)</tspan></text>
<rect x="313.1" y="23.00" width="17.599999999999966" height="14.86" fill="#d52c1e" stroke="#222" stroke-width="1"/>
<rect x="313.1" y="37.86" width="17.599999999999966" height="14.86" fill="#e03d1f" stroke="#222" stroke-width="1"/>
<rect x="313.1" y="52.72" width="17.599999999999966" height="14.86" fill="#e8521f" stroke="#222" stroke-width="1"/>
<rect x="313.1" y="67.58" width="17.599999999999966" height="14.86" fill="#ef7021" stroke="#222" stroke-width="1"/>
<rect x="313.1" y="82.44" width="17.599999999999966" height="14.86" fill="#f48f22" stroke="#222" stroke-width="1"/>
<rect x="313.1" y="97.30" width="17.599999999999966" height="14.86" fill="#f7a52c" stroke="#222" stroke-width="1"/>
<rect x="313.1" y="112.16" width="17.599999999999966" height="14.86" fill="#f8c73c" stroke="#222" stroke-width="1"/>
<rect x="313.1" y="127.02" width="17.599999999999966" height="14.86" fill="#f1e244" stroke="#222" stroke-width="1"/>
<rect x="313.1" y="141.88" width="17.599999999999966" height="14.86" fill="#cfe23c" stroke="#222" stroke-width="1"/>
<rect x="313.1" y="156.74" width="17.599999999999966" height="14.86" fill="#b4d527" stroke="#222" stroke-width="1"/>
<rect x="313.1" y="171.60" width="17.599999999999966" height="14.86" fill="#8cc614" stroke="#222" stroke-width="1"/>
<rect x="313.1" y="186.46" width="17.599999999999966" height="14.86" fill="#90e0c4" stroke="#222" stroke-width="1"/>
<rect x="313.1" y="201.32" width="17.599999999999966" height="14.86" fill="#88d3e6" stroke="#222" stroke-width="1"/>
<rect x="313.1" y="216.18" width="17.599999999999966" height="14.86" fill="#6bbde3" stroke="#222" stroke-width="1"/>
<rect x="313.1" y="231.04" width="17.599999999999966" height="14.86" fill="#55a6da" stroke="#222" stroke-width="1"/>
<rect x="313.1" y="245.90" width="17.599999999999966" height="14.86" fill="#4b8ed0" stroke="#222" stroke-width="1"/>
<rect x="313.1" y="260.76" width="17.599999999999966" height="14.86" fill="#447ac6" stroke="#222" stroke-width="1"/>
<rect x="313.1" y="275.62" width="17.599999999999966" height="14.86" fill="#3f66bd" stroke="#222" stroke-width="1"/>
<rect x="313.1" y="290.48" width="17.599999999999966" height="14.86" fill="#3a55b8" stroke="#222" stroke-width="1"/>
<rect x="313.1" y="305.34" width="17.599999999999966" height="14.86" fill="#2c3ea9" stroke="#222" stroke-width="1"/>
<text x="332.2" y="31.50" font-size="17.9" font-family='"Liberation Serif", serif'>578.8</text>
<text x="332.2" y="60.90" font-size="17.9" font-family='"Liberation Serif", serif'>520.9</text>
<text x="332.2" y="90.30" font-size="17.9" font-family='"Liberation Serif", serif'>463.0</text>
<text x="332.2" y="119.70" font-size="17.9" font-family='"Liberation Serif", serif'>405.2</text>
<text x="332.2" y="149.10" font-size="17.9" font-family='"Liberation Serif", serif'>347.3</text>
<text x="332.2" y="178.50" font-size="17.9" font-family='"Liberation Serif", serif'>289.4</text>
<text x="332.2" y="207.90" font-size="17.9" font-family='"Liberation Serif", serif'>231.5</text>
<text x="332.2" y="237.30" font-size="17.9" font-family='"Liberation Serif", serif'>173.6</text>
<text x="332.2" y="266.70" font-size="17.9" font-family='"Liberation Serif", serif'>115.8</text>
<text x="332.2" y="296.10" font-size="17.9" font-family='"Liberation Serif", serif'>57.88</text>
<text x="332.2" y="325.50" font-size="17.9" font-family='"Liberation Serif", serif'>0</text>
<text x="36.5" y="14.6" font-size="22" font-family='"Liberation Serif", serif'>A</text>
<text x="392.5" y="14.5" font-size="22" font-family='"Liberation Serif", serif'>B</text>
</svg></body></html>
